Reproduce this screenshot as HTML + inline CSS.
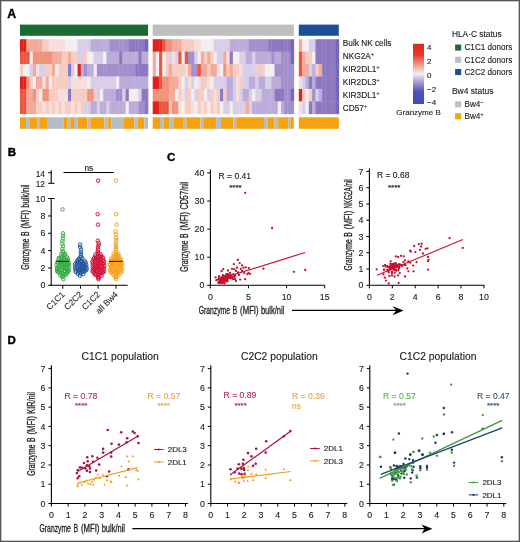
<!DOCTYPE html><html><head><meta charset="utf-8"><style>
html,body{margin:0;padding:0;background:#fff;width:520px;height:542px;overflow:hidden}
body{position:relative;font-family:"Liberation Sans", sans-serif}
svg{filter:blur(0.35px)}
</style></head><body>
<svg width="520" height="542" viewBox="0 0 520 542" style="position:absolute;left:0;top:0">
<rect x="0" y="0" width="520" height="542" fill="#fff"/>
<rect x="20" y="24.6" width="128" height="11.2" fill="#1c6a34"/>
<rect x="152.7" y="24.6" width="141.1" height="11.2" fill="#bfbfbf"/>
<rect x="298.8" y="24.6" width="40" height="11.2" fill="#1c4f96"/>
<defs><filter id="bl" x="-2%" y="-2%" width="104%" height="104%"><feGaussianBlur stdDeviation="0.45"/></filter></defs><g filter="url(#bl)">
<rect x="20.00" y="39.20" width="3.55" height="12.78" fill="#e0241a"/>
<rect x="23.20" y="39.20" width="3.55" height="12.78" fill="#e0241a"/>
<rect x="26.40" y="39.20" width="3.55" height="12.78" fill="#f4aa99"/>
<rect x="29.60" y="39.20" width="3.55" height="12.78" fill="#f4aa99"/>
<rect x="32.80" y="39.20" width="3.55" height="12.78" fill="#f4aa99"/>
<rect x="36.00" y="39.20" width="3.55" height="12.78" fill="#f4aa99"/>
<rect x="39.20" y="39.20" width="3.55" height="12.78" fill="#f4aa99"/>
<rect x="42.40" y="39.20" width="3.55" height="12.78" fill="#f7cdc2"/>
<rect x="45.60" y="39.20" width="3.55" height="12.78" fill="#f7cdc2"/>
<rect x="48.80" y="39.20" width="3.55" height="12.78" fill="#f5dfdc"/>
<rect x="52.00" y="39.20" width="3.55" height="12.78" fill="#f5dfdc"/>
<rect x="55.20" y="39.20" width="3.55" height="12.78" fill="#f5dfdc"/>
<rect x="58.40" y="39.20" width="3.55" height="12.78" fill="#f5dfdc"/>
<rect x="61.60" y="39.20" width="3.55" height="12.78" fill="#f5dfdc"/>
<rect x="64.80" y="39.20" width="3.55" height="12.78" fill="#f3eef1"/>
<rect x="68.00" y="39.20" width="3.55" height="12.78" fill="#f3eef1"/>
<rect x="71.20" y="39.20" width="3.55" height="12.78" fill="#f3eef1"/>
<rect x="74.40" y="39.20" width="3.55" height="12.78" fill="#f3eef1"/>
<rect x="77.60" y="39.20" width="3.55" height="12.78" fill="#d9cee8"/>
<rect x="80.80" y="39.20" width="3.55" height="12.78" fill="#d9cee8"/>
<rect x="84.00" y="39.20" width="3.55" height="12.78" fill="#d9cee8"/>
<rect x="87.20" y="39.20" width="3.55" height="12.78" fill="#d9cee8"/>
<rect x="90.40" y="39.20" width="3.55" height="12.78" fill="#bbacd9"/>
<rect x="93.60" y="39.20" width="3.55" height="12.78" fill="#bbacd9"/>
<rect x="96.80" y="39.20" width="3.55" height="12.78" fill="#bbacd9"/>
<rect x="100.00" y="39.20" width="3.55" height="12.78" fill="#bbacd9"/>
<rect x="103.20" y="39.20" width="3.55" height="12.78" fill="#bbacd9"/>
<rect x="106.40" y="39.20" width="3.55" height="12.78" fill="#bbacd9"/>
<rect x="109.60" y="39.20" width="3.55" height="12.78" fill="#a28fcb"/>
<rect x="112.80" y="39.20" width="3.55" height="12.78" fill="#a28fcb"/>
<rect x="116.00" y="39.20" width="3.55" height="12.78" fill="#a28fcb"/>
<rect x="119.20" y="39.20" width="3.55" height="12.78" fill="#a28fcb"/>
<rect x="122.40" y="39.20" width="3.55" height="12.78" fill="#a28fcb"/>
<rect x="125.60" y="39.20" width="3.55" height="12.78" fill="#a28fcb"/>
<rect x="128.80" y="39.20" width="3.55" height="12.78" fill="#8d79c1"/>
<rect x="132.00" y="39.20" width="3.55" height="12.78" fill="#8d79c1"/>
<rect x="135.20" y="39.20" width="3.55" height="12.78" fill="#8d79c1"/>
<rect x="138.40" y="39.20" width="3.55" height="12.78" fill="#8d79c1"/>
<rect x="141.60" y="39.20" width="3.55" height="12.78" fill="#8d79c1"/>
<rect x="144.80" y="39.20" width="3.55" height="12.78" fill="#7a66b6"/>
<rect x="20.00" y="51.63" width="3.55" height="12.78" fill="#ea5641"/>
<rect x="23.20" y="51.63" width="3.55" height="12.78" fill="#ea5641"/>
<rect x="26.40" y="51.63" width="3.55" height="12.78" fill="#ea5641"/>
<rect x="29.60" y="51.63" width="3.55" height="12.78" fill="#f3eef1"/>
<rect x="32.80" y="51.63" width="3.55" height="12.78" fill="#f1927d"/>
<rect x="36.00" y="51.63" width="3.55" height="12.78" fill="#f1927d"/>
<rect x="39.20" y="51.63" width="3.55" height="12.78" fill="#f1927d"/>
<rect x="42.40" y="51.63" width="3.55" height="12.78" fill="#f1927d"/>
<rect x="45.60" y="51.63" width="3.55" height="12.78" fill="#f1927d"/>
<rect x="48.80" y="51.63" width="3.55" height="12.78" fill="#f1927d"/>
<rect x="52.00" y="51.63" width="3.55" height="12.78" fill="#f4aa99"/>
<rect x="55.20" y="51.63" width="3.55" height="12.78" fill="#f4aa99"/>
<rect x="58.40" y="51.63" width="3.55" height="12.78" fill="#f4aa99"/>
<rect x="61.60" y="51.63" width="3.55" height="12.78" fill="#f7cdc2"/>
<rect x="64.80" y="51.63" width="3.55" height="12.78" fill="#f7cdc2"/>
<rect x="68.00" y="51.63" width="3.55" height="12.78" fill="#f4aa99"/>
<rect x="71.20" y="51.63" width="3.55" height="12.78" fill="#f7cdc2"/>
<rect x="74.40" y="51.63" width="3.55" height="12.78" fill="#f7cdc2"/>
<rect x="77.60" y="51.63" width="3.55" height="12.78" fill="#d9cee8"/>
<rect x="80.80" y="51.63" width="3.55" height="12.78" fill="#d9cee8"/>
<rect x="84.00" y="51.63" width="3.55" height="12.78" fill="#f7cdc2"/>
<rect x="87.20" y="51.63" width="3.55" height="12.78" fill="#f3eef1"/>
<rect x="90.40" y="51.63" width="3.55" height="12.78" fill="#f3eef1"/>
<rect x="93.60" y="51.63" width="3.55" height="12.78" fill="#d9cee8"/>
<rect x="96.80" y="51.63" width="3.55" height="12.78" fill="#d9cee8"/>
<rect x="100.00" y="51.63" width="3.55" height="12.78" fill="#d9cee8"/>
<rect x="103.20" y="51.63" width="3.55" height="12.78" fill="#f3eef1"/>
<rect x="106.40" y="51.63" width="3.55" height="12.78" fill="#bbacd9"/>
<rect x="109.60" y="51.63" width="3.55" height="12.78" fill="#bbacd9"/>
<rect x="112.80" y="51.63" width="3.55" height="12.78" fill="#bbacd9"/>
<rect x="116.00" y="51.63" width="3.55" height="12.78" fill="#bbacd9"/>
<rect x="119.20" y="51.63" width="3.55" height="12.78" fill="#8d79c1"/>
<rect x="122.40" y="51.63" width="3.55" height="12.78" fill="#bbacd9"/>
<rect x="125.60" y="51.63" width="3.55" height="12.78" fill="#bbacd9"/>
<rect x="128.80" y="51.63" width="3.55" height="12.78" fill="#bbacd9"/>
<rect x="132.00" y="51.63" width="3.55" height="12.78" fill="#bbacd9"/>
<rect x="135.20" y="51.63" width="3.55" height="12.78" fill="#bbacd9"/>
<rect x="138.40" y="51.63" width="3.55" height="12.78" fill="#8d79c1"/>
<rect x="141.60" y="51.63" width="3.55" height="12.78" fill="#bbacd9"/>
<rect x="144.80" y="51.63" width="3.55" height="12.78" fill="#bbacd9"/>
<rect x="20.00" y="64.07" width="3.55" height="12.78" fill="#f7cdc2"/>
<rect x="23.20" y="64.07" width="3.55" height="12.78" fill="#f3eef1"/>
<rect x="26.40" y="64.07" width="3.55" height="12.78" fill="#f3eef1"/>
<rect x="29.60" y="64.07" width="3.55" height="12.78" fill="#d9cee8"/>
<rect x="32.80" y="64.07" width="3.55" height="12.78" fill="#f4aa99"/>
<rect x="36.00" y="64.07" width="3.55" height="12.78" fill="#f5dfdc"/>
<rect x="39.20" y="64.07" width="3.55" height="12.78" fill="#d9cee8"/>
<rect x="42.40" y="64.07" width="3.55" height="12.78" fill="#d9cee8"/>
<rect x="45.60" y="64.07" width="3.55" height="12.78" fill="#f7cdc2"/>
<rect x="48.80" y="64.07" width="3.55" height="12.78" fill="#f7cdc2"/>
<rect x="52.00" y="64.07" width="3.55" height="12.78" fill="#f4aa99"/>
<rect x="55.20" y="64.07" width="3.55" height="12.78" fill="#f3eef1"/>
<rect x="58.40" y="64.07" width="3.55" height="12.78" fill="#f7cdc2"/>
<rect x="61.60" y="64.07" width="3.55" height="12.78" fill="#f7cdc2"/>
<rect x="64.80" y="64.07" width="3.55" height="12.78" fill="#f7cdc2"/>
<rect x="68.00" y="64.07" width="3.55" height="12.78" fill="#8d79c1"/>
<rect x="71.20" y="64.07" width="3.55" height="12.78" fill="#d9cee8"/>
<rect x="74.40" y="64.07" width="3.55" height="12.78" fill="#f3eef1"/>
<rect x="77.60" y="64.07" width="3.55" height="12.78" fill="#e0241a"/>
<rect x="80.80" y="64.07" width="3.55" height="12.78" fill="#bbacd9"/>
<rect x="84.00" y="64.07" width="3.55" height="12.78" fill="#a28fcb"/>
<rect x="87.20" y="64.07" width="3.55" height="12.78" fill="#bbacd9"/>
<rect x="90.40" y="64.07" width="3.55" height="12.78" fill="#bbacd9"/>
<rect x="93.60" y="64.07" width="3.55" height="12.78" fill="#f3eef1"/>
<rect x="96.80" y="64.07" width="3.55" height="12.78" fill="#a28fcb"/>
<rect x="100.00" y="64.07" width="3.55" height="12.78" fill="#a28fcb"/>
<rect x="103.20" y="64.07" width="3.55" height="12.78" fill="#a28fcb"/>
<rect x="106.40" y="64.07" width="3.55" height="12.78" fill="#a28fcb"/>
<rect x="109.60" y="64.07" width="3.55" height="12.78" fill="#a28fcb"/>
<rect x="112.80" y="64.07" width="3.55" height="12.78" fill="#a28fcb"/>
<rect x="116.00" y="64.07" width="3.55" height="12.78" fill="#a28fcb"/>
<rect x="119.20" y="64.07" width="3.55" height="12.78" fill="#a28fcb"/>
<rect x="122.40" y="64.07" width="3.55" height="12.78" fill="#a28fcb"/>
<rect x="125.60" y="64.07" width="3.55" height="12.78" fill="#a28fcb"/>
<rect x="128.80" y="64.07" width="3.55" height="12.78" fill="#a28fcb"/>
<rect x="132.00" y="64.07" width="3.55" height="12.78" fill="#a28fcb"/>
<rect x="135.20" y="64.07" width="3.55" height="12.78" fill="#8d79c1"/>
<rect x="138.40" y="64.07" width="3.55" height="12.78" fill="#8d79c1"/>
<rect x="141.60" y="64.07" width="3.55" height="12.78" fill="#8d79c1"/>
<rect x="144.80" y="64.07" width="3.55" height="12.78" fill="#8d79c1"/>
<rect x="20.00" y="76.50" width="3.55" height="12.78" fill="#e0241a"/>
<rect x="23.20" y="76.50" width="3.55" height="12.78" fill="#e0241a"/>
<rect x="26.40" y="76.50" width="3.55" height="12.78" fill="#f1927d"/>
<rect x="29.60" y="76.50" width="3.55" height="12.78" fill="#f7cdc2"/>
<rect x="32.80" y="76.50" width="3.55" height="12.78" fill="#f3eef1"/>
<rect x="36.00" y="76.50" width="3.55" height="12.78" fill="#f4aa99"/>
<rect x="39.20" y="76.50" width="3.55" height="12.78" fill="#f4aa99"/>
<rect x="42.40" y="76.50" width="3.55" height="12.78" fill="#f5dfdc"/>
<rect x="45.60" y="76.50" width="3.55" height="12.78" fill="#f4aa99"/>
<rect x="48.80" y="76.50" width="3.55" height="12.78" fill="#f3eef1"/>
<rect x="52.00" y="76.50" width="3.55" height="12.78" fill="#f7cdc2"/>
<rect x="55.20" y="76.50" width="3.55" height="12.78" fill="#f7cdc2"/>
<rect x="58.40" y="76.50" width="3.55" height="12.78" fill="#f7cdc2"/>
<rect x="61.60" y="76.50" width="3.55" height="12.78" fill="#f7cdc2"/>
<rect x="64.80" y="76.50" width="3.55" height="12.78" fill="#f7cdc2"/>
<rect x="68.00" y="76.50" width="3.55" height="12.78" fill="#d9cee8"/>
<rect x="71.20" y="76.50" width="3.55" height="12.78" fill="#f5dfdc"/>
<rect x="74.40" y="76.50" width="3.55" height="12.78" fill="#f5dfdc"/>
<rect x="77.60" y="76.50" width="3.55" height="12.78" fill="#f5dfdc"/>
<rect x="80.80" y="76.50" width="3.55" height="12.78" fill="#f5dfdc"/>
<rect x="84.00" y="76.50" width="3.55" height="12.78" fill="#f5dfdc"/>
<rect x="87.20" y="76.50" width="3.55" height="12.78" fill="#f3eef1"/>
<rect x="90.40" y="76.50" width="3.55" height="12.78" fill="#d9cee8"/>
<rect x="93.60" y="76.50" width="3.55" height="12.78" fill="#d9cee8"/>
<rect x="96.80" y="76.50" width="3.55" height="12.78" fill="#d9cee8"/>
<rect x="100.00" y="76.50" width="3.55" height="12.78" fill="#d9cee8"/>
<rect x="103.20" y="76.50" width="3.55" height="12.78" fill="#d9cee8"/>
<rect x="106.40" y="76.50" width="3.55" height="12.78" fill="#d9cee8"/>
<rect x="109.60" y="76.50" width="3.55" height="12.78" fill="#d9cee8"/>
<rect x="112.80" y="76.50" width="3.55" height="12.78" fill="#d9cee8"/>
<rect x="116.00" y="76.50" width="3.55" height="12.78" fill="#f3eef1"/>
<rect x="119.20" y="76.50" width="3.55" height="12.78" fill="#bbacd9"/>
<rect x="122.40" y="76.50" width="3.55" height="12.78" fill="#bbacd9"/>
<rect x="125.60" y="76.50" width="3.55" height="12.78" fill="#bbacd9"/>
<rect x="128.80" y="76.50" width="3.55" height="12.78" fill="#bbacd9"/>
<rect x="132.00" y="76.50" width="3.55" height="12.78" fill="#bbacd9"/>
<rect x="135.20" y="76.50" width="3.55" height="12.78" fill="#bbacd9"/>
<rect x="138.40" y="76.50" width="3.55" height="12.78" fill="#bbacd9"/>
<rect x="141.60" y="76.50" width="3.55" height="12.78" fill="#bbacd9"/>
<rect x="144.80" y="76.50" width="3.55" height="12.78" fill="#bbacd9"/>
<rect x="20.00" y="88.93" width="3.55" height="12.78" fill="#ea5641"/>
<rect x="23.20" y="88.93" width="3.55" height="12.78" fill="#ea5641"/>
<rect x="26.40" y="88.93" width="3.55" height="12.78" fill="#f4aa99"/>
<rect x="29.60" y="88.93" width="3.55" height="12.78" fill="#f4aa99"/>
<rect x="32.80" y="88.93" width="3.55" height="12.78" fill="#f1927d"/>
<rect x="36.00" y="88.93" width="3.55" height="12.78" fill="#f7cdc2"/>
<rect x="39.20" y="88.93" width="3.55" height="12.78" fill="#f3eef1"/>
<rect x="42.40" y="88.93" width="3.55" height="12.78" fill="#f1927d"/>
<rect x="45.60" y="88.93" width="3.55" height="12.78" fill="#f1927d"/>
<rect x="48.80" y="88.93" width="3.55" height="12.78" fill="#f7cdc2"/>
<rect x="52.00" y="88.93" width="3.55" height="12.78" fill="#f7cdc2"/>
<rect x="55.20" y="88.93" width="3.55" height="12.78" fill="#f7cdc2"/>
<rect x="58.40" y="88.93" width="3.55" height="12.78" fill="#f5dfdc"/>
<rect x="61.60" y="88.93" width="3.55" height="12.78" fill="#f5dfdc"/>
<rect x="64.80" y="88.93" width="3.55" height="12.78" fill="#f5dfdc"/>
<rect x="68.00" y="88.93" width="3.55" height="12.78" fill="#8d79c1"/>
<rect x="71.20" y="88.93" width="3.55" height="12.78" fill="#f7cdc2"/>
<rect x="74.40" y="88.93" width="3.55" height="12.78" fill="#f7cdc2"/>
<rect x="77.60" y="88.93" width="3.55" height="12.78" fill="#f7cdc2"/>
<rect x="80.80" y="88.93" width="3.55" height="12.78" fill="#f7cdc2"/>
<rect x="84.00" y="88.93" width="3.55" height="12.78" fill="#f7cdc2"/>
<rect x="87.20" y="88.93" width="3.55" height="12.78" fill="#f1927d"/>
<rect x="90.40" y="88.93" width="3.55" height="12.78" fill="#f1927d"/>
<rect x="93.60" y="88.93" width="3.55" height="12.78" fill="#f7cdc2"/>
<rect x="96.80" y="88.93" width="3.55" height="12.78" fill="#d9cee8"/>
<rect x="100.00" y="88.93" width="3.55" height="12.78" fill="#f3eef1"/>
<rect x="103.20" y="88.93" width="3.55" height="12.78" fill="#bbacd9"/>
<rect x="106.40" y="88.93" width="3.55" height="12.78" fill="#bbacd9"/>
<rect x="109.60" y="88.93" width="3.55" height="12.78" fill="#bbacd9"/>
<rect x="112.80" y="88.93" width="3.55" height="12.78" fill="#bbacd9"/>
<rect x="116.00" y="88.93" width="3.55" height="12.78" fill="#a28fcb"/>
<rect x="119.20" y="88.93" width="3.55" height="12.78" fill="#a28fcb"/>
<rect x="122.40" y="88.93" width="3.55" height="12.78" fill="#d9cee8"/>
<rect x="125.60" y="88.93" width="3.55" height="12.78" fill="#8d79c1"/>
<rect x="128.80" y="88.93" width="3.55" height="12.78" fill="#f3eef1"/>
<rect x="132.00" y="88.93" width="3.55" height="12.78" fill="#f3eef1"/>
<rect x="135.20" y="88.93" width="3.55" height="12.78" fill="#f3eef1"/>
<rect x="138.40" y="88.93" width="3.55" height="12.78" fill="#d9cee8"/>
<rect x="141.60" y="88.93" width="3.55" height="12.78" fill="#8d79c1"/>
<rect x="144.80" y="88.93" width="3.55" height="12.78" fill="#8d79c1"/>
<rect x="20.00" y="101.37" width="3.55" height="12.78" fill="#ea5641"/>
<rect x="23.20" y="101.37" width="3.55" height="12.78" fill="#ea5641"/>
<rect x="26.40" y="101.37" width="3.55" height="12.78" fill="#f4aa99"/>
<rect x="29.60" y="101.37" width="3.55" height="12.78" fill="#f4aa99"/>
<rect x="32.80" y="101.37" width="3.55" height="12.78" fill="#f4aa99"/>
<rect x="36.00" y="101.37" width="3.55" height="12.78" fill="#f7cdc2"/>
<rect x="39.20" y="101.37" width="3.55" height="12.78" fill="#f7cdc2"/>
<rect x="42.40" y="101.37" width="3.55" height="12.78" fill="#f5dfdc"/>
<rect x="45.60" y="101.37" width="3.55" height="12.78" fill="#f7cdc2"/>
<rect x="48.80" y="101.37" width="3.55" height="12.78" fill="#f5dfdc"/>
<rect x="52.00" y="101.37" width="3.55" height="12.78" fill="#f7cdc2"/>
<rect x="55.20" y="101.37" width="3.55" height="12.78" fill="#f5dfdc"/>
<rect x="58.40" y="101.37" width="3.55" height="12.78" fill="#f7cdc2"/>
<rect x="61.60" y="101.37" width="3.55" height="12.78" fill="#f5dfdc"/>
<rect x="64.80" y="101.37" width="3.55" height="12.78" fill="#f7cdc2"/>
<rect x="68.00" y="101.37" width="3.55" height="12.78" fill="#f7cdc2"/>
<rect x="71.20" y="101.37" width="3.55" height="12.78" fill="#f5dfdc"/>
<rect x="74.40" y="101.37" width="3.55" height="12.78" fill="#f7cdc2"/>
<rect x="77.60" y="101.37" width="3.55" height="12.78" fill="#f5dfdc"/>
<rect x="80.80" y="101.37" width="3.55" height="12.78" fill="#f7cdc2"/>
<rect x="84.00" y="101.37" width="3.55" height="12.78" fill="#d9cee8"/>
<rect x="87.20" y="101.37" width="3.55" height="12.78" fill="#d9cee8"/>
<rect x="90.40" y="101.37" width="3.55" height="12.78" fill="#bbacd9"/>
<rect x="93.60" y="101.37" width="3.55" height="12.78" fill="#bbacd9"/>
<rect x="96.80" y="101.37" width="3.55" height="12.78" fill="#d9cee8"/>
<rect x="100.00" y="101.37" width="3.55" height="12.78" fill="#bbacd9"/>
<rect x="103.20" y="101.37" width="3.55" height="12.78" fill="#bbacd9"/>
<rect x="106.40" y="101.37" width="3.55" height="12.78" fill="#d9cee8"/>
<rect x="109.60" y="101.37" width="3.55" height="12.78" fill="#bbacd9"/>
<rect x="112.80" y="101.37" width="3.55" height="12.78" fill="#bbacd9"/>
<rect x="116.00" y="101.37" width="3.55" height="12.78" fill="#bbacd9"/>
<rect x="119.20" y="101.37" width="3.55" height="12.78" fill="#bbacd9"/>
<rect x="122.40" y="101.37" width="3.55" height="12.78" fill="#bbacd9"/>
<rect x="125.60" y="101.37" width="3.55" height="12.78" fill="#f3eef1"/>
<rect x="128.80" y="101.37" width="3.55" height="12.78" fill="#bbacd9"/>
<rect x="132.00" y="101.37" width="3.55" height="12.78" fill="#bbacd9"/>
<rect x="135.20" y="101.37" width="3.55" height="12.78" fill="#bbacd9"/>
<rect x="138.40" y="101.37" width="3.55" height="12.78" fill="#a28fcb"/>
<rect x="141.60" y="101.37" width="3.55" height="12.78" fill="#a28fcb"/>
<rect x="144.80" y="101.37" width="3.55" height="12.78" fill="#8d79c1"/>
<rect x="152.70" y="39.20" width="3.56" height="12.78" fill="#e0241a"/>
<rect x="155.91" y="39.20" width="3.56" height="12.78" fill="#e0241a"/>
<rect x="159.11" y="39.20" width="3.56" height="12.78" fill="#e0241a"/>
<rect x="162.32" y="39.20" width="3.56" height="12.78" fill="#ea5641"/>
<rect x="165.53" y="39.20" width="3.56" height="12.78" fill="#f1927d"/>
<rect x="168.73" y="39.20" width="3.56" height="12.78" fill="#f1927d"/>
<rect x="171.94" y="39.20" width="3.56" height="12.78" fill="#f4aa99"/>
<rect x="175.15" y="39.20" width="3.56" height="12.78" fill="#f4aa99"/>
<rect x="178.35" y="39.20" width="3.56" height="12.78" fill="#f4aa99"/>
<rect x="181.56" y="39.20" width="3.56" height="12.78" fill="#f7cdc2"/>
<rect x="184.77" y="39.20" width="3.56" height="12.78" fill="#f7cdc2"/>
<rect x="187.97" y="39.20" width="3.56" height="12.78" fill="#f7cdc2"/>
<rect x="191.18" y="39.20" width="3.56" height="12.78" fill="#f7cdc2"/>
<rect x="194.39" y="39.20" width="3.56" height="12.78" fill="#f5dfdc"/>
<rect x="197.60" y="39.20" width="3.56" height="12.78" fill="#f5dfdc"/>
<rect x="200.80" y="39.20" width="3.56" height="12.78" fill="#f3eef1"/>
<rect x="204.01" y="39.20" width="3.56" height="12.78" fill="#f3eef1"/>
<rect x="207.22" y="39.20" width="3.56" height="12.78" fill="#f3eef1"/>
<rect x="210.42" y="39.20" width="3.56" height="12.78" fill="#f3eef1"/>
<rect x="213.63" y="39.20" width="3.56" height="12.78" fill="#d9cee8"/>
<rect x="216.84" y="39.20" width="3.56" height="12.78" fill="#d9cee8"/>
<rect x="220.04" y="39.20" width="3.56" height="12.78" fill="#d9cee8"/>
<rect x="223.25" y="39.20" width="3.56" height="12.78" fill="#d9cee8"/>
<rect x="226.46" y="39.20" width="3.56" height="12.78" fill="#d9cee8"/>
<rect x="229.66" y="39.20" width="3.56" height="12.78" fill="#bbacd9"/>
<rect x="232.87" y="39.20" width="3.56" height="12.78" fill="#bbacd9"/>
<rect x="236.08" y="39.20" width="3.56" height="12.78" fill="#bbacd9"/>
<rect x="239.28" y="39.20" width="3.56" height="12.78" fill="#bbacd9"/>
<rect x="242.49" y="39.20" width="3.56" height="12.78" fill="#bbacd9"/>
<rect x="245.70" y="39.20" width="3.56" height="12.78" fill="#bbacd9"/>
<rect x="248.90" y="39.20" width="3.56" height="12.78" fill="#a28fcb"/>
<rect x="252.11" y="39.20" width="3.56" height="12.78" fill="#a28fcb"/>
<rect x="255.32" y="39.20" width="3.56" height="12.78" fill="#a28fcb"/>
<rect x="258.52" y="39.20" width="3.56" height="12.78" fill="#a28fcb"/>
<rect x="261.73" y="39.20" width="3.56" height="12.78" fill="#a28fcb"/>
<rect x="264.94" y="39.20" width="3.56" height="12.78" fill="#a28fcb"/>
<rect x="268.15" y="39.20" width="3.56" height="12.78" fill="#8d79c1"/>
<rect x="271.35" y="39.20" width="3.56" height="12.78" fill="#8d79c1"/>
<rect x="274.56" y="39.20" width="3.56" height="12.78" fill="#8d79c1"/>
<rect x="277.77" y="39.20" width="3.56" height="12.78" fill="#8d79c1"/>
<rect x="280.97" y="39.20" width="3.56" height="12.78" fill="#8d79c1"/>
<rect x="284.18" y="39.20" width="3.56" height="12.78" fill="#8d79c1"/>
<rect x="287.39" y="39.20" width="3.56" height="12.78" fill="#8d79c1"/>
<rect x="290.59" y="39.20" width="3.56" height="12.78" fill="#7a66b6"/>
<rect x="152.70" y="51.63" width="3.56" height="12.78" fill="#f4aa99"/>
<rect x="155.91" y="51.63" width="3.56" height="12.78" fill="#f3eef1"/>
<rect x="159.11" y="51.63" width="3.56" height="12.78" fill="#ea5641"/>
<rect x="162.32" y="51.63" width="3.56" height="12.78" fill="#f3eef1"/>
<rect x="165.53" y="51.63" width="3.56" height="12.78" fill="#f7cdc2"/>
<rect x="168.73" y="51.63" width="3.56" height="12.78" fill="#d9cee8"/>
<rect x="171.94" y="51.63" width="3.56" height="12.78" fill="#f5dfdc"/>
<rect x="175.15" y="51.63" width="3.56" height="12.78" fill="#d9cee8"/>
<rect x="178.35" y="51.63" width="3.56" height="12.78" fill="#ea5641"/>
<rect x="181.56" y="51.63" width="3.56" height="12.78" fill="#f3eef1"/>
<rect x="184.77" y="51.63" width="3.56" height="12.78" fill="#ea5641"/>
<rect x="187.97" y="51.63" width="3.56" height="12.78" fill="#a28fcb"/>
<rect x="191.18" y="51.63" width="3.56" height="12.78" fill="#a28fcb"/>
<rect x="194.39" y="51.63" width="3.56" height="12.78" fill="#d9cee8"/>
<rect x="197.60" y="51.63" width="3.56" height="12.78" fill="#f3eef1"/>
<rect x="200.80" y="51.63" width="3.56" height="12.78" fill="#f4aa99"/>
<rect x="204.01" y="51.63" width="3.56" height="12.78" fill="#f7cdc2"/>
<rect x="207.22" y="51.63" width="3.56" height="12.78" fill="#f4aa99"/>
<rect x="210.42" y="51.63" width="3.56" height="12.78" fill="#f7cdc2"/>
<rect x="213.63" y="51.63" width="3.56" height="12.78" fill="#f3eef1"/>
<rect x="216.84" y="51.63" width="3.56" height="12.78" fill="#d9cee8"/>
<rect x="220.04" y="51.63" width="3.56" height="12.78" fill="#d9cee8"/>
<rect x="223.25" y="51.63" width="3.56" height="12.78" fill="#f4aa99"/>
<rect x="226.46" y="51.63" width="3.56" height="12.78" fill="#f5dfdc"/>
<rect x="229.66" y="51.63" width="3.56" height="12.78" fill="#8d79c1"/>
<rect x="232.87" y="51.63" width="3.56" height="12.78" fill="#f3eef1"/>
<rect x="236.08" y="51.63" width="3.56" height="12.78" fill="#f3eef1"/>
<rect x="239.28" y="51.63" width="3.56" height="12.78" fill="#d9cee8"/>
<rect x="242.49" y="51.63" width="3.56" height="12.78" fill="#d9cee8"/>
<rect x="245.70" y="51.63" width="3.56" height="12.78" fill="#bbacd9"/>
<rect x="248.90" y="51.63" width="3.56" height="12.78" fill="#bbacd9"/>
<rect x="252.11" y="51.63" width="3.56" height="12.78" fill="#d9cee8"/>
<rect x="255.32" y="51.63" width="3.56" height="12.78" fill="#bbacd9"/>
<rect x="258.52" y="51.63" width="3.56" height="12.78" fill="#bbacd9"/>
<rect x="261.73" y="51.63" width="3.56" height="12.78" fill="#bbacd9"/>
<rect x="264.94" y="51.63" width="3.56" height="12.78" fill="#bbacd9"/>
<rect x="268.15" y="51.63" width="3.56" height="12.78" fill="#bbacd9"/>
<rect x="271.35" y="51.63" width="3.56" height="12.78" fill="#a28fcb"/>
<rect x="274.56" y="51.63" width="3.56" height="12.78" fill="#bbacd9"/>
<rect x="277.77" y="51.63" width="3.56" height="12.78" fill="#bbacd9"/>
<rect x="280.97" y="51.63" width="3.56" height="12.78" fill="#a28fcb"/>
<rect x="284.18" y="51.63" width="3.56" height="12.78" fill="#a28fcb"/>
<rect x="287.39" y="51.63" width="3.56" height="12.78" fill="#a28fcb"/>
<rect x="290.59" y="51.63" width="3.56" height="12.78" fill="#7a66b6"/>
<rect x="152.70" y="64.07" width="3.56" height="12.78" fill="#f4aa99"/>
<rect x="155.91" y="64.07" width="3.56" height="12.78" fill="#f3eef1"/>
<rect x="159.11" y="64.07" width="3.56" height="12.78" fill="#ea5641"/>
<rect x="162.32" y="64.07" width="3.56" height="12.78" fill="#f3eef1"/>
<rect x="165.53" y="64.07" width="3.56" height="12.78" fill="#f7cdc2"/>
<rect x="168.73" y="64.07" width="3.56" height="12.78" fill="#f4aa99"/>
<rect x="171.94" y="64.07" width="3.56" height="12.78" fill="#f7cdc2"/>
<rect x="175.15" y="64.07" width="3.56" height="12.78" fill="#f7cdc2"/>
<rect x="178.35" y="64.07" width="3.56" height="12.78" fill="#f7cdc2"/>
<rect x="181.56" y="64.07" width="3.56" height="12.78" fill="#f7cdc2"/>
<rect x="184.77" y="64.07" width="3.56" height="12.78" fill="#f5dfdc"/>
<rect x="187.97" y="64.07" width="3.56" height="12.78" fill="#f4aa99"/>
<rect x="191.18" y="64.07" width="3.56" height="12.78" fill="#a28fcb"/>
<rect x="194.39" y="64.07" width="3.56" height="12.78" fill="#a28fcb"/>
<rect x="197.60" y="64.07" width="3.56" height="12.78" fill="#ea5641"/>
<rect x="200.80" y="64.07" width="3.56" height="12.78" fill="#f4aa99"/>
<rect x="204.01" y="64.07" width="3.56" height="12.78" fill="#f4aa99"/>
<rect x="207.22" y="64.07" width="3.56" height="12.78" fill="#f7cdc2"/>
<rect x="210.42" y="64.07" width="3.56" height="12.78" fill="#f4aa99"/>
<rect x="213.63" y="64.07" width="3.56" height="12.78" fill="#f4aa99"/>
<rect x="216.84" y="64.07" width="3.56" height="12.78" fill="#f5dfdc"/>
<rect x="220.04" y="64.07" width="3.56" height="12.78" fill="#f3eef1"/>
<rect x="223.25" y="64.07" width="3.56" height="12.78" fill="#f1927d"/>
<rect x="226.46" y="64.07" width="3.56" height="12.78" fill="#f7cdc2"/>
<rect x="229.66" y="64.07" width="3.56" height="12.78" fill="#f4aa99"/>
<rect x="232.87" y="64.07" width="3.56" height="12.78" fill="#f7cdc2"/>
<rect x="236.08" y="64.07" width="3.56" height="12.78" fill="#f7cdc2"/>
<rect x="239.28" y="64.07" width="3.56" height="12.78" fill="#f5dfdc"/>
<rect x="242.49" y="64.07" width="3.56" height="12.78" fill="#d9cee8"/>
<rect x="245.70" y="64.07" width="3.56" height="12.78" fill="#d9cee8"/>
<rect x="248.90" y="64.07" width="3.56" height="12.78" fill="#d9cee8"/>
<rect x="252.11" y="64.07" width="3.56" height="12.78" fill="#d9cee8"/>
<rect x="255.32" y="64.07" width="3.56" height="12.78" fill="#f7cdc2"/>
<rect x="258.52" y="64.07" width="3.56" height="12.78" fill="#d9cee8"/>
<rect x="261.73" y="64.07" width="3.56" height="12.78" fill="#f7cdc2"/>
<rect x="264.94" y="64.07" width="3.56" height="12.78" fill="#f3eef1"/>
<rect x="268.15" y="64.07" width="3.56" height="12.78" fill="#f3eef1"/>
<rect x="271.35" y="64.07" width="3.56" height="12.78" fill="#f3eef1"/>
<rect x="274.56" y="64.07" width="3.56" height="12.78" fill="#a28fcb"/>
<rect x="277.77" y="64.07" width="3.56" height="12.78" fill="#a28fcb"/>
<rect x="280.97" y="64.07" width="3.56" height="12.78" fill="#a28fcb"/>
<rect x="284.18" y="64.07" width="3.56" height="12.78" fill="#a28fcb"/>
<rect x="287.39" y="64.07" width="3.56" height="12.78" fill="#a28fcb"/>
<rect x="290.59" y="64.07" width="3.56" height="12.78" fill="#a28fcb"/>
<rect x="152.70" y="76.50" width="3.56" height="12.78" fill="#e0241a"/>
<rect x="155.91" y="76.50" width="3.56" height="12.78" fill="#e0241a"/>
<rect x="159.11" y="76.50" width="3.56" height="12.78" fill="#ea5641"/>
<rect x="162.32" y="76.50" width="3.56" height="12.78" fill="#f1927d"/>
<rect x="165.53" y="76.50" width="3.56" height="12.78" fill="#f1927d"/>
<rect x="168.73" y="76.50" width="3.56" height="12.78" fill="#f4aa99"/>
<rect x="171.94" y="76.50" width="3.56" height="12.78" fill="#f4aa99"/>
<rect x="175.15" y="76.50" width="3.56" height="12.78" fill="#f4aa99"/>
<rect x="178.35" y="76.50" width="3.56" height="12.78" fill="#f7cdc2"/>
<rect x="181.56" y="76.50" width="3.56" height="12.78" fill="#f3eef1"/>
<rect x="184.77" y="76.50" width="3.56" height="12.78" fill="#d9cee8"/>
<rect x="187.97" y="76.50" width="3.56" height="12.78" fill="#f5dfdc"/>
<rect x="191.18" y="76.50" width="3.56" height="12.78" fill="#d9cee8"/>
<rect x="194.39" y="76.50" width="3.56" height="12.78" fill="#f3eef1"/>
<rect x="197.60" y="76.50" width="3.56" height="12.78" fill="#f5dfdc"/>
<rect x="200.80" y="76.50" width="3.56" height="12.78" fill="#d9cee8"/>
<rect x="204.01" y="76.50" width="3.56" height="12.78" fill="#f7cdc2"/>
<rect x="207.22" y="76.50" width="3.56" height="12.78" fill="#f5dfdc"/>
<rect x="210.42" y="76.50" width="3.56" height="12.78" fill="#f3eef1"/>
<rect x="213.63" y="76.50" width="3.56" height="12.78" fill="#d9cee8"/>
<rect x="216.84" y="76.50" width="3.56" height="12.78" fill="#d9cee8"/>
<rect x="220.04" y="76.50" width="3.56" height="12.78" fill="#d9cee8"/>
<rect x="223.25" y="76.50" width="3.56" height="12.78" fill="#d9cee8"/>
<rect x="226.46" y="76.50" width="3.56" height="12.78" fill="#bbacd9"/>
<rect x="229.66" y="76.50" width="3.56" height="12.78" fill="#bbacd9"/>
<rect x="232.87" y="76.50" width="3.56" height="12.78" fill="#d9cee8"/>
<rect x="236.08" y="76.50" width="3.56" height="12.78" fill="#f5dfdc"/>
<rect x="239.28" y="76.50" width="3.56" height="12.78" fill="#f7cdc2"/>
<rect x="242.49" y="76.50" width="3.56" height="12.78" fill="#d9cee8"/>
<rect x="245.70" y="76.50" width="3.56" height="12.78" fill="#d9cee8"/>
<rect x="248.90" y="76.50" width="3.56" height="12.78" fill="#bbacd9"/>
<rect x="252.11" y="76.50" width="3.56" height="12.78" fill="#bbacd9"/>
<rect x="255.32" y="76.50" width="3.56" height="12.78" fill="#d9cee8"/>
<rect x="258.52" y="76.50" width="3.56" height="12.78" fill="#bbacd9"/>
<rect x="261.73" y="76.50" width="3.56" height="12.78" fill="#bbacd9"/>
<rect x="264.94" y="76.50" width="3.56" height="12.78" fill="#d9cee8"/>
<rect x="268.15" y="76.50" width="3.56" height="12.78" fill="#d9cee8"/>
<rect x="271.35" y="76.50" width="3.56" height="12.78" fill="#bbacd9"/>
<rect x="274.56" y="76.50" width="3.56" height="12.78" fill="#bbacd9"/>
<rect x="277.77" y="76.50" width="3.56" height="12.78" fill="#bbacd9"/>
<rect x="280.97" y="76.50" width="3.56" height="12.78" fill="#a28fcb"/>
<rect x="284.18" y="76.50" width="3.56" height="12.78" fill="#a28fcb"/>
<rect x="287.39" y="76.50" width="3.56" height="12.78" fill="#a28fcb"/>
<rect x="290.59" y="76.50" width="3.56" height="12.78" fill="#a28fcb"/>
<rect x="152.70" y="88.93" width="3.56" height="12.78" fill="#f1927d"/>
<rect x="155.91" y="88.93" width="3.56" height="12.78" fill="#f1927d"/>
<rect x="159.11" y="88.93" width="3.56" height="12.78" fill="#f1927d"/>
<rect x="162.32" y="88.93" width="3.56" height="12.78" fill="#f1927d"/>
<rect x="165.53" y="88.93" width="3.56" height="12.78" fill="#f1927d"/>
<rect x="168.73" y="88.93" width="3.56" height="12.78" fill="#f4aa99"/>
<rect x="171.94" y="88.93" width="3.56" height="12.78" fill="#f4aa99"/>
<rect x="175.15" y="88.93" width="3.56" height="12.78" fill="#f3eef1"/>
<rect x="178.35" y="88.93" width="3.56" height="12.78" fill="#f7cdc2"/>
<rect x="181.56" y="88.93" width="3.56" height="12.78" fill="#f5dfdc"/>
<rect x="184.77" y="88.93" width="3.56" height="12.78" fill="#d9cee8"/>
<rect x="187.97" y="88.93" width="3.56" height="12.78" fill="#f7cdc2"/>
<rect x="191.18" y="88.93" width="3.56" height="12.78" fill="#f3eef1"/>
<rect x="194.39" y="88.93" width="3.56" height="12.78" fill="#d9cee8"/>
<rect x="197.60" y="88.93" width="3.56" height="12.78" fill="#f7cdc2"/>
<rect x="200.80" y="88.93" width="3.56" height="12.78" fill="#f7cdc2"/>
<rect x="204.01" y="88.93" width="3.56" height="12.78" fill="#f3eef1"/>
<rect x="207.22" y="88.93" width="3.56" height="12.78" fill="#d9cee8"/>
<rect x="210.42" y="88.93" width="3.56" height="12.78" fill="#f7cdc2"/>
<rect x="213.63" y="88.93" width="3.56" height="12.78" fill="#f5dfdc"/>
<rect x="216.84" y="88.93" width="3.56" height="12.78" fill="#f7cdc2"/>
<rect x="220.04" y="88.93" width="3.56" height="12.78" fill="#8d79c1"/>
<rect x="223.25" y="88.93" width="3.56" height="12.78" fill="#f7cdc2"/>
<rect x="226.46" y="88.93" width="3.56" height="12.78" fill="#bbacd9"/>
<rect x="229.66" y="88.93" width="3.56" height="12.78" fill="#bbacd9"/>
<rect x="232.87" y="88.93" width="3.56" height="12.78" fill="#d9cee8"/>
<rect x="236.08" y="88.93" width="3.56" height="12.78" fill="#f5dfdc"/>
<rect x="239.28" y="88.93" width="3.56" height="12.78" fill="#d9cee8"/>
<rect x="242.49" y="88.93" width="3.56" height="12.78" fill="#bbacd9"/>
<rect x="245.70" y="88.93" width="3.56" height="12.78" fill="#bbacd9"/>
<rect x="248.90" y="88.93" width="3.56" height="12.78" fill="#d9cee8"/>
<rect x="252.11" y="88.93" width="3.56" height="12.78" fill="#f3eef1"/>
<rect x="255.32" y="88.93" width="3.56" height="12.78" fill="#d9cee8"/>
<rect x="258.52" y="88.93" width="3.56" height="12.78" fill="#d9cee8"/>
<rect x="261.73" y="88.93" width="3.56" height="12.78" fill="#bbacd9"/>
<rect x="264.94" y="88.93" width="3.56" height="12.78" fill="#bbacd9"/>
<rect x="268.15" y="88.93" width="3.56" height="12.78" fill="#bbacd9"/>
<rect x="271.35" y="88.93" width="3.56" height="12.78" fill="#bbacd9"/>
<rect x="274.56" y="88.93" width="3.56" height="12.78" fill="#8d79c1"/>
<rect x="277.77" y="88.93" width="3.56" height="12.78" fill="#8d79c1"/>
<rect x="280.97" y="88.93" width="3.56" height="12.78" fill="#8d79c1"/>
<rect x="284.18" y="88.93" width="3.56" height="12.78" fill="#a28fcb"/>
<rect x="287.39" y="88.93" width="3.56" height="12.78" fill="#a28fcb"/>
<rect x="290.59" y="88.93" width="3.56" height="12.78" fill="#7a66b6"/>
<rect x="152.70" y="101.37" width="3.56" height="12.78" fill="#e0241a"/>
<rect x="155.91" y="101.37" width="3.56" height="12.78" fill="#e0241a"/>
<rect x="159.11" y="101.37" width="3.56" height="12.78" fill="#ea5641"/>
<rect x="162.32" y="101.37" width="3.56" height="12.78" fill="#ea5641"/>
<rect x="165.53" y="101.37" width="3.56" height="12.78" fill="#ea5641"/>
<rect x="168.73" y="101.37" width="3.56" height="12.78" fill="#f7cdc2"/>
<rect x="171.94" y="101.37" width="3.56" height="12.78" fill="#f1927d"/>
<rect x="175.15" y="101.37" width="3.56" height="12.78" fill="#f1927d"/>
<rect x="178.35" y="101.37" width="3.56" height="12.78" fill="#f5dfdc"/>
<rect x="181.56" y="101.37" width="3.56" height="12.78" fill="#f3eef1"/>
<rect x="184.77" y="101.37" width="3.56" height="12.78" fill="#f7cdc2"/>
<rect x="187.97" y="101.37" width="3.56" height="12.78" fill="#f7cdc2"/>
<rect x="191.18" y="101.37" width="3.56" height="12.78" fill="#f5dfdc"/>
<rect x="194.39" y="101.37" width="3.56" height="12.78" fill="#f3eef1"/>
<rect x="197.60" y="101.37" width="3.56" height="12.78" fill="#f7cdc2"/>
<rect x="200.80" y="101.37" width="3.56" height="12.78" fill="#f5dfdc"/>
<rect x="204.01" y="101.37" width="3.56" height="12.78" fill="#f7cdc2"/>
<rect x="207.22" y="101.37" width="3.56" height="12.78" fill="#f3eef1"/>
<rect x="210.42" y="101.37" width="3.56" height="12.78" fill="#f7cdc2"/>
<rect x="213.63" y="101.37" width="3.56" height="12.78" fill="#f5dfdc"/>
<rect x="216.84" y="101.37" width="3.56" height="12.78" fill="#f7cdc2"/>
<rect x="220.04" y="101.37" width="3.56" height="12.78" fill="#f3eef1"/>
<rect x="223.25" y="101.37" width="3.56" height="12.78" fill="#d9cee8"/>
<rect x="226.46" y="101.37" width="3.56" height="12.78" fill="#d9cee8"/>
<rect x="229.66" y="101.37" width="3.56" height="12.78" fill="#f3eef1"/>
<rect x="232.87" y="101.37" width="3.56" height="12.78" fill="#d9cee8"/>
<rect x="236.08" y="101.37" width="3.56" height="12.78" fill="#d9cee8"/>
<rect x="239.28" y="101.37" width="3.56" height="12.78" fill="#d9cee8"/>
<rect x="242.49" y="101.37" width="3.56" height="12.78" fill="#d9cee8"/>
<rect x="245.70" y="101.37" width="3.56" height="12.78" fill="#f4aa99"/>
<rect x="248.90" y="101.37" width="3.56" height="12.78" fill="#d9cee8"/>
<rect x="252.11" y="101.37" width="3.56" height="12.78" fill="#bbacd9"/>
<rect x="255.32" y="101.37" width="3.56" height="12.78" fill="#bbacd9"/>
<rect x="258.52" y="101.37" width="3.56" height="12.78" fill="#bbacd9"/>
<rect x="261.73" y="101.37" width="3.56" height="12.78" fill="#bbacd9"/>
<rect x="264.94" y="101.37" width="3.56" height="12.78" fill="#bbacd9"/>
<rect x="268.15" y="101.37" width="3.56" height="12.78" fill="#bbacd9"/>
<rect x="271.35" y="101.37" width="3.56" height="12.78" fill="#bbacd9"/>
<rect x="274.56" y="101.37" width="3.56" height="12.78" fill="#bbacd9"/>
<rect x="277.77" y="101.37" width="3.56" height="12.78" fill="#f3eef1"/>
<rect x="280.97" y="101.37" width="3.56" height="12.78" fill="#bbacd9"/>
<rect x="284.18" y="101.37" width="3.56" height="12.78" fill="#a28fcb"/>
<rect x="287.39" y="101.37" width="3.56" height="12.78" fill="#a28fcb"/>
<rect x="290.59" y="101.37" width="3.56" height="12.78" fill="#a28fcb"/>
<rect x="298.80" y="39.20" width="3.68" height="12.78" fill="#f4aa99"/>
<rect x="302.13" y="39.20" width="3.68" height="12.78" fill="#f3eef1"/>
<rect x="305.47" y="39.20" width="3.68" height="12.78" fill="#f3eef1"/>
<rect x="308.80" y="39.20" width="3.68" height="12.78" fill="#d9cee8"/>
<rect x="312.13" y="39.20" width="3.68" height="12.78" fill="#d9cee8"/>
<rect x="315.47" y="39.20" width="3.68" height="12.78" fill="#8d79c1"/>
<rect x="318.80" y="39.20" width="3.68" height="12.78" fill="#8d79c1"/>
<rect x="322.13" y="39.20" width="3.68" height="12.78" fill="#8d79c1"/>
<rect x="325.47" y="39.20" width="3.68" height="12.78" fill="#8d79c1"/>
<rect x="328.80" y="39.20" width="3.68" height="12.78" fill="#8d79c1"/>
<rect x="332.13" y="39.20" width="3.68" height="12.78" fill="#8d79c1"/>
<rect x="335.47" y="39.20" width="3.68" height="12.78" fill="#7a66b6"/>
<rect x="298.80" y="51.63" width="3.68" height="12.78" fill="#ea5641"/>
<rect x="302.13" y="51.63" width="3.68" height="12.78" fill="#f4aa99"/>
<rect x="305.47" y="51.63" width="3.68" height="12.78" fill="#f7cdc2"/>
<rect x="308.80" y="51.63" width="3.68" height="12.78" fill="#f7cdc2"/>
<rect x="312.13" y="51.63" width="3.68" height="12.78" fill="#f3eef1"/>
<rect x="315.47" y="51.63" width="3.68" height="12.78" fill="#8d79c1"/>
<rect x="318.80" y="51.63" width="3.68" height="12.78" fill="#8d79c1"/>
<rect x="322.13" y="51.63" width="3.68" height="12.78" fill="#8d79c1"/>
<rect x="325.47" y="51.63" width="3.68" height="12.78" fill="#8d79c1"/>
<rect x="328.80" y="51.63" width="3.68" height="12.78" fill="#8d79c1"/>
<rect x="332.13" y="51.63" width="3.68" height="12.78" fill="#8d79c1"/>
<rect x="335.47" y="51.63" width="3.68" height="12.78" fill="#7a66b6"/>
<rect x="298.80" y="64.07" width="3.68" height="12.78" fill="#ea5641"/>
<rect x="302.13" y="64.07" width="3.68" height="12.78" fill="#f4aa99"/>
<rect x="305.47" y="64.07" width="3.68" height="12.78" fill="#f4aa99"/>
<rect x="308.80" y="64.07" width="3.68" height="12.78" fill="#d9cee8"/>
<rect x="312.13" y="64.07" width="3.68" height="12.78" fill="#bbacd9"/>
<rect x="315.47" y="64.07" width="3.68" height="12.78" fill="#f7cdc2"/>
<rect x="318.80" y="64.07" width="3.68" height="12.78" fill="#f4aa99"/>
<rect x="322.13" y="64.07" width="3.68" height="12.78" fill="#8d79c1"/>
<rect x="325.47" y="64.07" width="3.68" height="12.78" fill="#8d79c1"/>
<rect x="328.80" y="64.07" width="3.68" height="12.78" fill="#8d79c1"/>
<rect x="332.13" y="64.07" width="3.68" height="12.78" fill="#8d79c1"/>
<rect x="335.47" y="64.07" width="3.68" height="12.78" fill="#7a66b6"/>
<rect x="298.80" y="76.50" width="3.68" height="12.78" fill="#f5dfdc"/>
<rect x="302.13" y="76.50" width="3.68" height="12.78" fill="#d9cee8"/>
<rect x="305.47" y="76.50" width="3.68" height="12.78" fill="#bbacd9"/>
<rect x="308.80" y="76.50" width="3.68" height="12.78" fill="#8d79c1"/>
<rect x="312.13" y="76.50" width="3.68" height="12.78" fill="#bbacd9"/>
<rect x="315.47" y="76.50" width="3.68" height="12.78" fill="#8d79c1"/>
<rect x="318.80" y="76.50" width="3.68" height="12.78" fill="#8d79c1"/>
<rect x="322.13" y="76.50" width="3.68" height="12.78" fill="#8d79c1"/>
<rect x="325.47" y="76.50" width="3.68" height="12.78" fill="#8d79c1"/>
<rect x="328.80" y="76.50" width="3.68" height="12.78" fill="#8d79c1"/>
<rect x="332.13" y="76.50" width="3.68" height="12.78" fill="#8d79c1"/>
<rect x="335.47" y="76.50" width="3.68" height="12.78" fill="#7a66b6"/>
<rect x="298.80" y="88.93" width="3.68" height="12.78" fill="#e0241a"/>
<rect x="302.13" y="88.93" width="3.68" height="12.78" fill="#f7cdc2"/>
<rect x="305.47" y="88.93" width="3.68" height="12.78" fill="#f3eef1"/>
<rect x="308.80" y="88.93" width="3.68" height="12.78" fill="#f7cdc2"/>
<rect x="312.13" y="88.93" width="3.68" height="12.78" fill="#a28fcb"/>
<rect x="315.47" y="88.93" width="3.68" height="12.78" fill="#d9cee8"/>
<rect x="318.80" y="88.93" width="3.68" height="12.78" fill="#bbacd9"/>
<rect x="322.13" y="88.93" width="3.68" height="12.78" fill="#8d79c1"/>
<rect x="325.47" y="88.93" width="3.68" height="12.78" fill="#8d79c1"/>
<rect x="328.80" y="88.93" width="3.68" height="12.78" fill="#8d79c1"/>
<rect x="332.13" y="88.93" width="3.68" height="12.78" fill="#8d79c1"/>
<rect x="335.47" y="88.93" width="3.68" height="12.78" fill="#7a66b6"/>
<rect x="298.80" y="101.37" width="3.68" height="12.78" fill="#f5dfdc"/>
<rect x="302.13" y="101.37" width="3.68" height="12.78" fill="#d9cee8"/>
<rect x="305.47" y="101.37" width="3.68" height="12.78" fill="#f3eef1"/>
<rect x="308.80" y="101.37" width="3.68" height="12.78" fill="#8d79c1"/>
<rect x="312.13" y="101.37" width="3.68" height="12.78" fill="#bbacd9"/>
<rect x="315.47" y="101.37" width="3.68" height="12.78" fill="#8d79c1"/>
<rect x="318.80" y="101.37" width="3.68" height="12.78" fill="#8d79c1"/>
<rect x="322.13" y="101.37" width="3.68" height="12.78" fill="#8d79c1"/>
<rect x="325.47" y="101.37" width="3.68" height="12.78" fill="#8d79c1"/>
<rect x="328.80" y="101.37" width="3.68" height="12.78" fill="#8d79c1"/>
<rect x="332.13" y="101.37" width="3.68" height="12.78" fill="#8d79c1"/>
<rect x="335.47" y="101.37" width="3.68" height="12.78" fill="#7a66b6"/>
</g>
<rect x="20.00" y="117.3" width="6.10" height="11.5" fill="#f5a20f"/>
<rect x="26.10" y="117.3" width="3.90" height="11.5" fill="#b6bcc4"/>
<rect x="30.00" y="117.3" width="7.60" height="11.5" fill="#f5a20f"/>
<rect x="37.60" y="117.3" width="2.40" height="11.5" fill="#b6bcc4"/>
<rect x="40.00" y="117.3" width="7.80" height="11.5" fill="#f5a20f"/>
<rect x="47.80" y="117.3" width="16.00" height="11.5" fill="#b6bcc4"/>
<rect x="63.80" y="117.3" width="3.90" height="11.5" fill="#f5a20f"/>
<rect x="67.70" y="117.3" width="2.60" height="11.5" fill="#b6bcc4"/>
<rect x="70.30" y="117.3" width="3.70" height="11.5" fill="#f5a20f"/>
<rect x="74.00" y="117.3" width="3.50" height="11.5" fill="#b6bcc4"/>
<rect x="77.50" y="117.3" width="9.80" height="11.5" fill="#f5a20f"/>
<rect x="87.30" y="117.3" width="3.20" height="11.5" fill="#b6bcc4"/>
<rect x="90.50" y="117.3" width="13.80" height="11.5" fill="#f5a20f"/>
<rect x="104.30" y="117.3" width="3.90" height="11.5" fill="#b6bcc4"/>
<rect x="108.20" y="117.3" width="3.30" height="11.5" fill="#f5a20f"/>
<rect x="111.50" y="117.3" width="12.40" height="11.5" fill="#b6bcc4"/>
<rect x="123.90" y="117.3" width="10.40" height="11.5" fill="#f5a20f"/>
<rect x="134.30" y="117.3" width="3.30" height="11.5" fill="#b6bcc4"/>
<rect x="137.60" y="117.3" width="6.80" height="11.5" fill="#f5a20f"/>
<rect x="144.40" y="117.3" width="3.60" height="11.5" fill="#b6bcc4"/>
<rect x="152.70" y="117.3" width="7.30" height="11.5" fill="#f5a20f"/>
<rect x="160.00" y="117.3" width="3.50" height="11.5" fill="#b6bcc4"/>
<rect x="163.50" y="117.3" width="5.70" height="11.5" fill="#f5a20f"/>
<rect x="169.20" y="117.3" width="4.30" height="11.5" fill="#b6bcc4"/>
<rect x="173.50" y="117.3" width="9.50" height="11.5" fill="#f5a20f"/>
<rect x="183.00" y="117.3" width="3.30" height="11.5" fill="#b6bcc4"/>
<rect x="186.30" y="117.3" width="14.20" height="11.5" fill="#f5a20f"/>
<rect x="200.50" y="117.3" width="3.50" height="11.5" fill="#b6bcc4"/>
<rect x="204.00" y="117.3" width="12.10" height="11.5" fill="#f5a20f"/>
<rect x="216.10" y="117.3" width="5.00" height="11.5" fill="#b6bcc4"/>
<rect x="221.10" y="117.3" width="12.30" height="11.5" fill="#f5a20f"/>
<rect x="233.40" y="117.3" width="2.80" height="11.5" fill="#b6bcc4"/>
<rect x="236.20" y="117.3" width="27.80" height="11.5" fill="#f5a20f"/>
<rect x="264.00" y="117.3" width="3.50" height="11.5" fill="#b6bcc4"/>
<rect x="267.50" y="117.3" width="7.10" height="11.5" fill="#f5a20f"/>
<rect x="274.60" y="117.3" width="3.60" height="11.5" fill="#b6bcc4"/>
<rect x="278.20" y="117.3" width="9.90" height="11.5" fill="#f5a20f"/>
<rect x="288.10" y="117.3" width="2.20" height="11.5" fill="#b6bcc4"/>
<rect x="290.30" y="117.3" width="3.50" height="11.5" fill="#f5a20f"/>
<rect x="298.80" y="117.3" width="40.00" height="11.5" fill="#f5a20f"/>
<g font-family='"Liberation Sans", sans-serif'>
<text x="7.30" y="18.20" font-size="12.30" text-anchor="start" fill="#000" font-weight="bold" stroke="#000" stroke-width="0.40" >A</text>
<text x="7.80" y="156.20" font-size="11.50" text-anchor="start" fill="#000" font-weight="bold" stroke="#000" stroke-width="0.40" >B</text>
<text x="167.00" y="160.80" font-size="11.50" text-anchor="start" fill="#000" font-weight="bold" stroke="#000" stroke-width="0.40" >C</text>
<text x="7.50" y="343.90" font-size="11.50" text-anchor="start" fill="#000" font-weight="bold" stroke="#000" stroke-width="0.40" >D</text>
<text x="342.80" y="46.10" font-size="8.27" text-anchor="start" fill="#1d1b1c" font-weight="normal" stroke="#1d1b1c" stroke-width="0.12" >Bulk NK cells</text>
<text x="342.80" y="59.02" font-size="8.27" text-anchor="start" fill="#1d1b1c" font-weight="normal" stroke="#1d1b1c" stroke-width="0.12" >NKG2A<tspan dy="-3.0" font-size="5.8">+</tspan></text>
<text x="342.80" y="71.94" font-size="8.27" text-anchor="start" fill="#1d1b1c" font-weight="normal" stroke="#1d1b1c" stroke-width="0.12" >KIR2DL1<tspan dy="-3.0" font-size="5.8">+</tspan></text>
<text x="342.80" y="84.86" font-size="8.27" text-anchor="start" fill="#1d1b1c" font-weight="normal" stroke="#1d1b1c" stroke-width="0.12" >KIR2DL3<tspan dy="-3.0" font-size="5.8">+</tspan></text>
<text x="342.80" y="97.78" font-size="8.27" text-anchor="start" fill="#1d1b1c" font-weight="normal" stroke="#1d1b1c" stroke-width="0.12" >KIR3DL1<tspan dy="-3.0" font-size="5.8">+</tspan></text>
<text x="342.80" y="110.70" font-size="8.27" text-anchor="start" fill="#1d1b1c" font-weight="normal" stroke="#1d1b1c" stroke-width="0.12" >CD57<tspan dy="-3.0" font-size="5.8">+</tspan></text>
<defs><linearGradient id="cb" x1="0" y1="0" x2="0" y2="1"><stop offset="0" stop-color="#e0281c"/><stop offset="0.18" stop-color="#e43a26"/><stop offset="0.36" stop-color="#f2a08c"/><stop offset="0.5" stop-color="#f3eef2"/><stop offset="0.64" stop-color="#a898d6"/><stop offset="0.8" stop-color="#4a54b8"/><stop offset="1" stop-color="#3e4cb4"/></linearGradient></defs>
<rect x="413" y="43.8" width="11" height="60.2" fill="url(#cb)"/>
<text x="427.00" y="50.40" font-size="8.00" text-anchor="start" fill="#1d1b1c" font-weight="normal" stroke="#1d1b1c" stroke-width="0.12" >4</text>
<text x="427.00" y="64.10" font-size="8.00" text-anchor="start" fill="#1d1b1c" font-weight="normal" stroke="#1d1b1c" stroke-width="0.12" >2</text>
<text x="427.00" y="77.80" font-size="8.00" text-anchor="start" fill="#1d1b1c" font-weight="normal" stroke="#1d1b1c" stroke-width="0.12" >0</text>
<text x="427.00" y="91.50" font-size="8.00" text-anchor="start" fill="#1d1b1c" font-weight="normal" stroke="#1d1b1c" stroke-width="0.12" >−2</text>
<text x="427.00" y="105.20" font-size="8.00" text-anchor="start" fill="#1d1b1c" font-weight="normal" stroke="#1d1b1c" stroke-width="0.12" >−4</text>
<text x="396.30" y="115.20" font-size="8.00" text-anchor="start" fill="#1d1b1c" font-weight="normal" stroke="#1d1b1c" stroke-width="0.12" >Granzyme B</text>
<text x="451.90" y="37.30" font-size="8.40" text-anchor="start" fill="#1d1b1c" font-weight="normal" stroke="#1d1b1c" stroke-width="0.12" >HLA·C status</text>
<rect x="455.1" y="44.50" width="6.1" height="6.1" fill="#1c6a34"/>
<text x="464.50" y="50.30" font-size="8.15" text-anchor="start" fill="#1d1b1c" font-weight="normal" stroke="#1d1b1c" stroke-width="0.12" >C1C1 donors</text>
<rect x="455.1" y="56.75" width="6.1" height="6.1" fill="#bfbfbf"/>
<text x="464.50" y="62.55" font-size="8.15" text-anchor="start" fill="#1d1b1c" font-weight="normal" stroke="#1d1b1c" stroke-width="0.12" >C1C2 donors</text>
<rect x="455.1" y="69.00" width="6.1" height="6.1" fill="#1c4f96"/>
<text x="464.50" y="74.80" font-size="8.15" text-anchor="start" fill="#1d1b1c" font-weight="normal" stroke="#1d1b1c" stroke-width="0.12" >C2C2 donors</text>
<text x="451.90" y="93.70" font-size="8.50" text-anchor="start" fill="#1d1b1c" font-weight="normal" stroke="#1d1b1c" stroke-width="0.12" >Bw4 status</text>
<rect x="455.1" y="101.3" width="6.1" height="6.1" fill="#bdbdc3"/>
<rect x="455.1" y="113.2" width="6.1" height="6.1" fill="#f5a20f"/>
<text x="464.50" y="107.20" font-size="8.15" text-anchor="start" fill="#1d1b1c" font-weight="normal" stroke="#1d1b1c" stroke-width="0.12" >Bw4<tspan dy="-3.0" font-size="5.8">−</tspan></text>
<text x="464.50" y="119.00" font-size="8.15" text-anchor="start" fill="#1d1b1c" font-weight="normal" stroke="#1d1b1c" stroke-width="0.12" >Bw4<tspan dy="-3.0" font-size="5.8">+</tspan></text>
</g>
<g font-family='"Liberation Sans", sans-serif'>
<line x1="51.20" y1="198.50" x2="51.20" y2="285.80" stroke="#000" stroke-width="1.10" />
<line x1="48.10" y1="198.50" x2="54.60" y2="198.50" stroke="#000" stroke-width="1.00" />
<line x1="51.20" y1="170.20" x2="51.20" y2="183.30" stroke="#000" stroke-width="1.10" />
<line x1="48.10" y1="172.70" x2="51.20" y2="172.70" stroke="#000" stroke-width="1.00" />
<line x1="48.10" y1="183.30" x2="54.60" y2="183.30" stroke="#000" stroke-width="1.00" />
<line x1="48.10" y1="285.30" x2="51.20" y2="285.30" stroke="#000" stroke-width="1.00" />
<line x1="48.10" y1="267.96" x2="51.20" y2="267.96" stroke="#000" stroke-width="1.00" />
<line x1="48.10" y1="250.62" x2="51.20" y2="250.62" stroke="#000" stroke-width="1.00" />
<line x1="48.10" y1="233.28" x2="51.20" y2="233.28" stroke="#000" stroke-width="1.00" />
<line x1="48.10" y1="215.94" x2="51.20" y2="215.94" stroke="#000" stroke-width="1.00" />
<text x="45.30" y="288.45" font-size="8.80" text-anchor="end" fill="#1d1b1c" font-weight="normal" stroke="#1d1b1c" stroke-width="0.12" >0</text>
<text x="45.30" y="271.11" font-size="8.80" text-anchor="end" fill="#1d1b1c" font-weight="normal" stroke="#1d1b1c" stroke-width="0.12" >2</text>
<text x="45.30" y="253.77" font-size="8.80" text-anchor="end" fill="#1d1b1c" font-weight="normal" stroke="#1d1b1c" stroke-width="0.12" >4</text>
<text x="45.30" y="236.43" font-size="8.80" text-anchor="end" fill="#1d1b1c" font-weight="normal" stroke="#1d1b1c" stroke-width="0.12" >6</text>
<text x="45.30" y="219.09" font-size="8.80" text-anchor="end" fill="#1d1b1c" font-weight="normal" stroke="#1d1b1c" stroke-width="0.12" >8</text>
<text x="45.30" y="201.75" font-size="8.80" text-anchor="end" fill="#1d1b1c" font-weight="normal" stroke="#1d1b1c" stroke-width="0.12" >10</text>
<text x="45.00" y="176.50" font-size="8.40" text-anchor="end" fill="#1d1b1c" font-weight="normal" stroke="#1d1b1c" stroke-width="0.12" >14</text>
<text x="45.00" y="187.10" font-size="8.40" text-anchor="end" fill="#1d1b1c" font-weight="normal" stroke="#1d1b1c" stroke-width="0.12" >12</text>
<line x1="50.70" y1="285.30" x2="127.70" y2="285.30" stroke="#000" stroke-width="1.10" />
<line x1="62.80" y1="285.30" x2="62.80" y2="288.70" stroke="#000" stroke-width="1.00" />
<line x1="80.50" y1="285.30" x2="80.50" y2="288.70" stroke="#000" stroke-width="1.00" />
<line x1="98.10" y1="285.30" x2="98.10" y2="288.70" stroke="#000" stroke-width="1.00" />
<line x1="115.90" y1="285.30" x2="115.90" y2="288.70" stroke="#000" stroke-width="1.00" />
<text x="65.40" y="295.00" font-size="8.6" text-anchor="end" fill="#231f20" stroke="#231f20" stroke-width="0.1" transform="rotate(-45 65.40 295.00)">C1C1</text>
<text x="83.10" y="295.00" font-size="8.6" text-anchor="end" fill="#231f20" stroke="#231f20" stroke-width="0.1" transform="rotate(-45 83.10 295.00)">C2C2</text>
<text x="100.70" y="295.00" font-size="8.6" text-anchor="end" fill="#231f20" stroke="#231f20" stroke-width="0.1" transform="rotate(-45 100.70 295.00)">C1C2</text>
<text x="118.50" y="295.00" font-size="8.6" text-anchor="end" fill="#231f20" stroke="#231f20" stroke-width="0.1" transform="rotate(-45 118.50 295.00)">all Bw4</text>
<g transform="translate(28.50 269.80) rotate(-90)">
<text x="0.00" y="0" font-size="10.30" fill="#231f20" stroke="#231f20" stroke-width="0.32" textLength="31.20" lengthAdjust="spacingAndGlyphs">Granzyme</text>
<text x="33.80" y="0" font-size="10.30" fill="#231f20" stroke="#231f20" stroke-width="0.32" textLength="4.60" lengthAdjust="spacingAndGlyphs">B</text>
<text x="41.30" y="0" font-size="10.30" fill="#231f20" stroke="#231f20" stroke-width="0.32" textLength="18.50" lengthAdjust="spacingAndGlyphs">(MFI)</text>
<text x="62.10" y="0" font-size="10.30" fill="#231f20" stroke="#231f20" stroke-width="0.32" textLength="23.20" lengthAdjust="spacingAndGlyphs">bulk/nil</text>
</g>
<line x1="63.50" y1="172.50" x2="113.80" y2="172.50" stroke="#000" stroke-width="1.10" />
<text x="88.80" y="170.60" font-size="8.30" text-anchor="middle" fill="#1d1b1c" font-weight="normal" stroke="#1d1b1c" stroke-width="0.12" >ns</text>
<circle cx="62.74" cy="276.63" r="1.75" fill="none" stroke="#3aab47" stroke-width="1.0"/>
<circle cx="60.26" cy="275.24" r="1.75" fill="none" stroke="#3aab47" stroke-width="1.0"/>
<circle cx="62.22" cy="274.74" r="1.75" fill="none" stroke="#3aab47" stroke-width="1.0"/>
<circle cx="64.44" cy="274.35" r="1.75" fill="none" stroke="#3aab47" stroke-width="1.0"/>
<circle cx="65.93" cy="274.89" r="1.75" fill="none" stroke="#3aab47" stroke-width="1.0"/>
<circle cx="58.10" cy="272.34" r="1.75" fill="none" stroke="#3aab47" stroke-width="1.0"/>
<circle cx="59.53" cy="272.34" r="1.75" fill="none" stroke="#3aab47" stroke-width="1.0"/>
<circle cx="62.16" cy="273.06" r="1.75" fill="none" stroke="#3aab47" stroke-width="1.0"/>
<circle cx="63.26" cy="273.41" r="1.75" fill="none" stroke="#3aab47" stroke-width="1.0"/>
<circle cx="66.39" cy="273.01" r="1.75" fill="none" stroke="#3aab47" stroke-width="1.0"/>
<circle cx="67.99" cy="272.42" r="1.75" fill="none" stroke="#3aab47" stroke-width="1.0"/>
<circle cx="56.98" cy="270.96" r="1.75" fill="none" stroke="#3aab47" stroke-width="1.0"/>
<circle cx="59.33" cy="270.56" r="1.75" fill="none" stroke="#3aab47" stroke-width="1.0"/>
<circle cx="61.84" cy="270.37" r="1.75" fill="none" stroke="#3aab47" stroke-width="1.0"/>
<circle cx="64.40" cy="270.86" r="1.75" fill="none" stroke="#3aab47" stroke-width="1.0"/>
<circle cx="67.15" cy="270.95" r="1.75" fill="none" stroke="#3aab47" stroke-width="1.0"/>
<circle cx="68.70" cy="270.93" r="1.75" fill="none" stroke="#3aab47" stroke-width="1.0"/>
<circle cx="57.07" cy="268.98" r="1.75" fill="none" stroke="#3aab47" stroke-width="1.0"/>
<circle cx="58.98" cy="269.63" r="1.75" fill="none" stroke="#3aab47" stroke-width="1.0"/>
<circle cx="62.21" cy="269.44" r="1.75" fill="none" stroke="#3aab47" stroke-width="1.0"/>
<circle cx="64.23" cy="268.81" r="1.75" fill="none" stroke="#3aab47" stroke-width="1.0"/>
<circle cx="66.03" cy="268.78" r="1.75" fill="none" stroke="#3aab47" stroke-width="1.0"/>
<circle cx="68.21" cy="269.35" r="1.75" fill="none" stroke="#3aab47" stroke-width="1.0"/>
<circle cx="57.07" cy="267.55" r="1.75" fill="none" stroke="#3aab47" stroke-width="1.0"/>
<circle cx="59.09" cy="267.68" r="1.75" fill="none" stroke="#3aab47" stroke-width="1.0"/>
<circle cx="61.68" cy="266.53" r="1.75" fill="none" stroke="#3aab47" stroke-width="1.0"/>
<circle cx="62.95" cy="267.62" r="1.75" fill="none" stroke="#3aab47" stroke-width="1.0"/>
<circle cx="65.30" cy="267.71" r="1.75" fill="none" stroke="#3aab47" stroke-width="1.0"/>
<circle cx="67.25" cy="266.62" r="1.75" fill="none" stroke="#3aab47" stroke-width="1.0"/>
<circle cx="69.07" cy="267.46" r="1.75" fill="none" stroke="#3aab47" stroke-width="1.0"/>
<circle cx="56.52" cy="264.73" r="1.75" fill="none" stroke="#3aab47" stroke-width="1.0"/>
<circle cx="58.59" cy="265.79" r="1.75" fill="none" stroke="#3aab47" stroke-width="1.0"/>
<circle cx="61.11" cy="264.77" r="1.75" fill="none" stroke="#3aab47" stroke-width="1.0"/>
<circle cx="62.50" cy="264.75" r="1.75" fill="none" stroke="#3aab47" stroke-width="1.0"/>
<circle cx="64.27" cy="265.59" r="1.75" fill="none" stroke="#3aab47" stroke-width="1.0"/>
<circle cx="66.42" cy="265.30" r="1.75" fill="none" stroke="#3aab47" stroke-width="1.0"/>
<circle cx="68.75" cy="264.86" r="1.75" fill="none" stroke="#3aab47" stroke-width="1.0"/>
<circle cx="57.93" cy="262.89" r="1.75" fill="none" stroke="#3aab47" stroke-width="1.0"/>
<circle cx="60.09" cy="262.87" r="1.75" fill="none" stroke="#3aab47" stroke-width="1.0"/>
<circle cx="62.08" cy="262.99" r="1.75" fill="none" stroke="#3aab47" stroke-width="1.0"/>
<circle cx="64.15" cy="263.90" r="1.75" fill="none" stroke="#3aab47" stroke-width="1.0"/>
<circle cx="67.05" cy="263.09" r="1.75" fill="none" stroke="#3aab47" stroke-width="1.0"/>
<circle cx="68.91" cy="262.98" r="1.75" fill="none" stroke="#3aab47" stroke-width="1.0"/>
<circle cx="57.40" cy="261.86" r="1.75" fill="none" stroke="#3aab47" stroke-width="1.0"/>
<circle cx="59.80" cy="260.95" r="1.75" fill="none" stroke="#3aab47" stroke-width="1.0"/>
<circle cx="62.33" cy="261.09" r="1.75" fill="none" stroke="#3aab47" stroke-width="1.0"/>
<circle cx="63.57" cy="261.76" r="1.75" fill="none" stroke="#3aab47" stroke-width="1.0"/>
<circle cx="65.76" cy="261.19" r="1.75" fill="none" stroke="#3aab47" stroke-width="1.0"/>
<circle cx="67.57" cy="260.94" r="1.75" fill="none" stroke="#3aab47" stroke-width="1.0"/>
<circle cx="58.89" cy="259.22" r="1.75" fill="none" stroke="#3aab47" stroke-width="1.0"/>
<circle cx="61.17" cy="259.38" r="1.75" fill="none" stroke="#3aab47" stroke-width="1.0"/>
<circle cx="63.24" cy="260.08" r="1.75" fill="none" stroke="#3aab47" stroke-width="1.0"/>
<circle cx="65.54" cy="259.62" r="1.75" fill="none" stroke="#3aab47" stroke-width="1.0"/>
<circle cx="67.75" cy="259.15" r="1.75" fill="none" stroke="#3aab47" stroke-width="1.0"/>
<circle cx="58.75" cy="258.12" r="1.75" fill="none" stroke="#3aab47" stroke-width="1.0"/>
<circle cx="61.97" cy="257.33" r="1.75" fill="none" stroke="#3aab47" stroke-width="1.0"/>
<circle cx="63.64" cy="257.92" r="1.75" fill="none" stroke="#3aab47" stroke-width="1.0"/>
<circle cx="66.96" cy="257.27" r="1.75" fill="none" stroke="#3aab47" stroke-width="1.0"/>
<circle cx="61.08" cy="256.19" r="1.75" fill="none" stroke="#3aab47" stroke-width="1.0"/>
<circle cx="63.42" cy="255.64" r="1.75" fill="none" stroke="#3aab47" stroke-width="1.0"/>
<circle cx="65.08" cy="255.18" r="1.75" fill="none" stroke="#3aab47" stroke-width="1.0"/>
<circle cx="61.47" cy="253.52" r="1.75" fill="none" stroke="#3aab47" stroke-width="1.0"/>
<circle cx="64.93" cy="253.54" r="1.75" fill="none" stroke="#3aab47" stroke-width="1.0"/>
<circle cx="63.19" cy="252.05" r="1.75" fill="none" stroke="#3aab47" stroke-width="1.0"/>
<circle cx="62.55" cy="251.49" r="1.75" fill="none" stroke="#3aab47" stroke-width="1.0"/>
<circle cx="62.41" cy="248.89" r="1.75" fill="none" stroke="#3aab47" stroke-width="1.0"/>
<circle cx="63.06" cy="246.29" r="1.75" fill="none" stroke="#3aab47" stroke-width="1.0"/>
<circle cx="62.28" cy="243.68" r="1.75" fill="none" stroke="#3aab47" stroke-width="1.0"/>
<circle cx="62.47" cy="241.08" r="1.75" fill="none" stroke="#3aab47" stroke-width="1.0"/>
<circle cx="62.87" cy="238.48" r="1.75" fill="none" stroke="#3aab47" stroke-width="1.0"/>
<circle cx="63.22" cy="235.88" r="1.75" fill="none" stroke="#3aab47" stroke-width="1.0"/>
<circle cx="62.94" cy="233.28" r="1.75" fill="none" stroke="#3aab47" stroke-width="1.0"/>
<circle cx="62.54" cy="209.44" r="1.75" fill="none" stroke="#3aab47" stroke-width="1.0"/>
<circle cx="63.30" cy="279.23" r="1.75" fill="none" stroke="#3aab47" stroke-width="1.0"/>
<circle cx="62.44" cy="277.06" r="1.75" fill="none" stroke="#3aab47" stroke-width="1.0"/>
<circle cx="79.92" cy="275.76" r="1.75" fill="none" stroke="#1f559c" stroke-width="1.0"/>
<circle cx="77.79" cy="273.80" r="1.75" fill="none" stroke="#1f559c" stroke-width="1.0"/>
<circle cx="80.47" cy="273.47" r="1.75" fill="none" stroke="#1f559c" stroke-width="1.0"/>
<circle cx="83.28" cy="273.95" r="1.75" fill="none" stroke="#1f559c" stroke-width="1.0"/>
<circle cx="75.59" cy="271.80" r="1.75" fill="none" stroke="#1f559c" stroke-width="1.0"/>
<circle cx="78.74" cy="272.54" r="1.75" fill="none" stroke="#1f559c" stroke-width="1.0"/>
<circle cx="80.69" cy="272.19" r="1.75" fill="none" stroke="#1f559c" stroke-width="1.0"/>
<circle cx="82.84" cy="271.53" r="1.75" fill="none" stroke="#1f559c" stroke-width="1.0"/>
<circle cx="84.41" cy="271.38" r="1.75" fill="none" stroke="#1f559c" stroke-width="1.0"/>
<circle cx="75.85" cy="270.30" r="1.75" fill="none" stroke="#1f559c" stroke-width="1.0"/>
<circle cx="78.17" cy="269.49" r="1.75" fill="none" stroke="#1f559c" stroke-width="1.0"/>
<circle cx="80.04" cy="270.04" r="1.75" fill="none" stroke="#1f559c" stroke-width="1.0"/>
<circle cx="82.40" cy="269.85" r="1.75" fill="none" stroke="#1f559c" stroke-width="1.0"/>
<circle cx="84.98" cy="269.55" r="1.75" fill="none" stroke="#1f559c" stroke-width="1.0"/>
<circle cx="86.19" cy="270.35" r="1.75" fill="none" stroke="#1f559c" stroke-width="1.0"/>
<circle cx="75.20" cy="268.45" r="1.75" fill="none" stroke="#1f559c" stroke-width="1.0"/>
<circle cx="77.27" cy="268.51" r="1.75" fill="none" stroke="#1f559c" stroke-width="1.0"/>
<circle cx="79.84" cy="267.99" r="1.75" fill="none" stroke="#1f559c" stroke-width="1.0"/>
<circle cx="81.88" cy="268.64" r="1.75" fill="none" stroke="#1f559c" stroke-width="1.0"/>
<circle cx="84.42" cy="268.06" r="1.75" fill="none" stroke="#1f559c" stroke-width="1.0"/>
<circle cx="86.63" cy="268.60" r="1.75" fill="none" stroke="#1f559c" stroke-width="1.0"/>
<circle cx="75.16" cy="266.41" r="1.75" fill="none" stroke="#1f559c" stroke-width="1.0"/>
<circle cx="77.30" cy="266.36" r="1.75" fill="none" stroke="#1f559c" stroke-width="1.0"/>
<circle cx="79.94" cy="265.76" r="1.75" fill="none" stroke="#1f559c" stroke-width="1.0"/>
<circle cx="82.35" cy="266.85" r="1.75" fill="none" stroke="#1f559c" stroke-width="1.0"/>
<circle cx="85.01" cy="266.54" r="1.75" fill="none" stroke="#1f559c" stroke-width="1.0"/>
<circle cx="86.30" cy="266.55" r="1.75" fill="none" stroke="#1f559c" stroke-width="1.0"/>
<circle cx="75.00" cy="264.29" r="1.75" fill="none" stroke="#1f559c" stroke-width="1.0"/>
<circle cx="77.55" cy="263.86" r="1.75" fill="none" stroke="#1f559c" stroke-width="1.0"/>
<circle cx="79.68" cy="263.80" r="1.75" fill="none" stroke="#1f559c" stroke-width="1.0"/>
<circle cx="81.74" cy="264.34" r="1.75" fill="none" stroke="#1f559c" stroke-width="1.0"/>
<circle cx="83.54" cy="264.60" r="1.75" fill="none" stroke="#1f559c" stroke-width="1.0"/>
<circle cx="86.09" cy="264.50" r="1.75" fill="none" stroke="#1f559c" stroke-width="1.0"/>
<circle cx="76.67" cy="262.17" r="1.75" fill="none" stroke="#1f559c" stroke-width="1.0"/>
<circle cx="78.00" cy="262.22" r="1.75" fill="none" stroke="#1f559c" stroke-width="1.0"/>
<circle cx="81.21" cy="262.11" r="1.75" fill="none" stroke="#1f559c" stroke-width="1.0"/>
<circle cx="83.02" cy="262.95" r="1.75" fill="none" stroke="#1f559c" stroke-width="1.0"/>
<circle cx="85.52" cy="262.39" r="1.75" fill="none" stroke="#1f559c" stroke-width="1.0"/>
<circle cx="77.44" cy="260.36" r="1.75" fill="none" stroke="#1f559c" stroke-width="1.0"/>
<circle cx="79.52" cy="260.20" r="1.75" fill="none" stroke="#1f559c" stroke-width="1.0"/>
<circle cx="81.59" cy="260.93" r="1.75" fill="none" stroke="#1f559c" stroke-width="1.0"/>
<circle cx="84.52" cy="261.02" r="1.75" fill="none" stroke="#1f559c" stroke-width="1.0"/>
<circle cx="78.87" cy="258.76" r="1.75" fill="none" stroke="#1f559c" stroke-width="1.0"/>
<circle cx="82.27" cy="258.23" r="1.75" fill="none" stroke="#1f559c" stroke-width="1.0"/>
<circle cx="80.50" cy="256.76" r="1.75" fill="none" stroke="#1f559c" stroke-width="1.0"/>
<circle cx="80.90" cy="256.69" r="1.75" fill="none" stroke="#1f559c" stroke-width="1.0"/>
<circle cx="80.92" cy="254.26" r="1.75" fill="none" stroke="#1f559c" stroke-width="1.0"/>
<circle cx="80.75" cy="251.83" r="1.75" fill="none" stroke="#1f559c" stroke-width="1.0"/>
<circle cx="81.04" cy="249.41" r="1.75" fill="none" stroke="#1f559c" stroke-width="1.0"/>
<circle cx="80.23" cy="246.98" r="1.75" fill="none" stroke="#1f559c" stroke-width="1.0"/>
<circle cx="80.10" cy="244.55" r="1.75" fill="none" stroke="#1f559c" stroke-width="1.0"/>
<circle cx="98.04" cy="277.06" r="1.75" fill="none" stroke="#d3123a" stroke-width="1.0"/>
<circle cx="95.22" cy="274.82" r="1.75" fill="none" stroke="#d3123a" stroke-width="1.0"/>
<circle cx="97.46" cy="275.31" r="1.75" fill="none" stroke="#d3123a" stroke-width="1.0"/>
<circle cx="99.63" cy="274.94" r="1.75" fill="none" stroke="#d3123a" stroke-width="1.0"/>
<circle cx="101.62" cy="275.74" r="1.75" fill="none" stroke="#d3123a" stroke-width="1.0"/>
<circle cx="93.67" cy="272.75" r="1.75" fill="none" stroke="#d3123a" stroke-width="1.0"/>
<circle cx="95.35" cy="273.71" r="1.75" fill="none" stroke="#d3123a" stroke-width="1.0"/>
<circle cx="97.55" cy="273.51" r="1.75" fill="none" stroke="#d3123a" stroke-width="1.0"/>
<circle cx="100.37" cy="273.03" r="1.75" fill="none" stroke="#d3123a" stroke-width="1.0"/>
<circle cx="102.83" cy="272.69" r="1.75" fill="none" stroke="#d3123a" stroke-width="1.0"/>
<circle cx="92.56" cy="271.31" r="1.75" fill="none" stroke="#d3123a" stroke-width="1.0"/>
<circle cx="94.67" cy="271.76" r="1.75" fill="none" stroke="#d3123a" stroke-width="1.0"/>
<circle cx="97.16" cy="270.93" r="1.75" fill="none" stroke="#d3123a" stroke-width="1.0"/>
<circle cx="99.18" cy="271.52" r="1.75" fill="none" stroke="#d3123a" stroke-width="1.0"/>
<circle cx="101.90" cy="271.52" r="1.75" fill="none" stroke="#d3123a" stroke-width="1.0"/>
<circle cx="103.89" cy="271.73" r="1.75" fill="none" stroke="#d3123a" stroke-width="1.0"/>
<circle cx="92.95" cy="269.68" r="1.75" fill="none" stroke="#d3123a" stroke-width="1.0"/>
<circle cx="94.32" cy="269.43" r="1.75" fill="none" stroke="#d3123a" stroke-width="1.0"/>
<circle cx="96.57" cy="268.88" r="1.75" fill="none" stroke="#d3123a" stroke-width="1.0"/>
<circle cx="99.21" cy="269.72" r="1.75" fill="none" stroke="#d3123a" stroke-width="1.0"/>
<circle cx="101.14" cy="269.19" r="1.75" fill="none" stroke="#d3123a" stroke-width="1.0"/>
<circle cx="103.62" cy="269.70" r="1.75" fill="none" stroke="#d3123a" stroke-width="1.0"/>
<circle cx="92.83" cy="267.70" r="1.75" fill="none" stroke="#d3123a" stroke-width="1.0"/>
<circle cx="95.43" cy="267.44" r="1.75" fill="none" stroke="#d3123a" stroke-width="1.0"/>
<circle cx="97.79" cy="268.05" r="1.75" fill="none" stroke="#d3123a" stroke-width="1.0"/>
<circle cx="99.26" cy="268.08" r="1.75" fill="none" stroke="#d3123a" stroke-width="1.0"/>
<circle cx="102.35" cy="267.12" r="1.75" fill="none" stroke="#d3123a" stroke-width="1.0"/>
<circle cx="103.84" cy="267.71" r="1.75" fill="none" stroke="#d3123a" stroke-width="1.0"/>
<circle cx="92.70" cy="265.52" r="1.75" fill="none" stroke="#d3123a" stroke-width="1.0"/>
<circle cx="94.65" cy="266.12" r="1.75" fill="none" stroke="#d3123a" stroke-width="1.0"/>
<circle cx="97.28" cy="266.20" r="1.75" fill="none" stroke="#d3123a" stroke-width="1.0"/>
<circle cx="99.24" cy="265.85" r="1.75" fill="none" stroke="#d3123a" stroke-width="1.0"/>
<circle cx="101.28" cy="265.93" r="1.75" fill="none" stroke="#d3123a" stroke-width="1.0"/>
<circle cx="104.38" cy="265.83" r="1.75" fill="none" stroke="#d3123a" stroke-width="1.0"/>
<circle cx="92.87" cy="263.42" r="1.75" fill="none" stroke="#d3123a" stroke-width="1.0"/>
<circle cx="95.48" cy="264.34" r="1.75" fill="none" stroke="#d3123a" stroke-width="1.0"/>
<circle cx="97.97" cy="263.81" r="1.75" fill="none" stroke="#d3123a" stroke-width="1.0"/>
<circle cx="100.15" cy="263.55" r="1.75" fill="none" stroke="#d3123a" stroke-width="1.0"/>
<circle cx="102.69" cy="264.19" r="1.75" fill="none" stroke="#d3123a" stroke-width="1.0"/>
<circle cx="103.91" cy="263.26" r="1.75" fill="none" stroke="#d3123a" stroke-width="1.0"/>
<circle cx="92.50" cy="261.92" r="1.75" fill="none" stroke="#d3123a" stroke-width="1.0"/>
<circle cx="95.11" cy="261.85" r="1.75" fill="none" stroke="#d3123a" stroke-width="1.0"/>
<circle cx="96.43" cy="262.23" r="1.75" fill="none" stroke="#d3123a" stroke-width="1.0"/>
<circle cx="98.68" cy="262.22" r="1.75" fill="none" stroke="#d3123a" stroke-width="1.0"/>
<circle cx="101.02" cy="261.67" r="1.75" fill="none" stroke="#d3123a" stroke-width="1.0"/>
<circle cx="103.97" cy="261.43" r="1.75" fill="none" stroke="#d3123a" stroke-width="1.0"/>
<circle cx="93.16" cy="259.98" r="1.75" fill="none" stroke="#d3123a" stroke-width="1.0"/>
<circle cx="95.86" cy="260.37" r="1.75" fill="none" stroke="#d3123a" stroke-width="1.0"/>
<circle cx="97.82" cy="260.50" r="1.75" fill="none" stroke="#d3123a" stroke-width="1.0"/>
<circle cx="99.59" cy="260.50" r="1.75" fill="none" stroke="#d3123a" stroke-width="1.0"/>
<circle cx="101.11" cy="259.63" r="1.75" fill="none" stroke="#d3123a" stroke-width="1.0"/>
<circle cx="103.15" cy="259.71" r="1.75" fill="none" stroke="#d3123a" stroke-width="1.0"/>
<circle cx="93.97" cy="258.23" r="1.75" fill="none" stroke="#d3123a" stroke-width="1.0"/>
<circle cx="95.93" cy="258.48" r="1.75" fill="none" stroke="#d3123a" stroke-width="1.0"/>
<circle cx="98.17" cy="257.84" r="1.75" fill="none" stroke="#d3123a" stroke-width="1.0"/>
<circle cx="100.16" cy="258.48" r="1.75" fill="none" stroke="#d3123a" stroke-width="1.0"/>
<circle cx="102.98" cy="257.71" r="1.75" fill="none" stroke="#d3123a" stroke-width="1.0"/>
<circle cx="95.67" cy="256.73" r="1.75" fill="none" stroke="#d3123a" stroke-width="1.0"/>
<circle cx="97.51" cy="256.25" r="1.75" fill="none" stroke="#d3123a" stroke-width="1.0"/>
<circle cx="99.36" cy="256.21" r="1.75" fill="none" stroke="#d3123a" stroke-width="1.0"/>
<circle cx="101.45" cy="256.29" r="1.75" fill="none" stroke="#d3123a" stroke-width="1.0"/>
<circle cx="95.24" cy="254.83" r="1.75" fill="none" stroke="#d3123a" stroke-width="1.0"/>
<circle cx="98.12" cy="254.14" r="1.75" fill="none" stroke="#d3123a" stroke-width="1.0"/>
<circle cx="100.76" cy="254.34" r="1.75" fill="none" stroke="#d3123a" stroke-width="1.0"/>
<circle cx="98.09" cy="252.59" r="1.75" fill="none" stroke="#d3123a" stroke-width="1.0"/>
<circle cx="97.58" cy="251.49" r="1.75" fill="none" stroke="#d3123a" stroke-width="1.0"/>
<circle cx="98.15" cy="249.32" r="1.75" fill="none" stroke="#d3123a" stroke-width="1.0"/>
<circle cx="98.00" cy="247.15" r="1.75" fill="none" stroke="#d3123a" stroke-width="1.0"/>
<circle cx="98.65" cy="244.98" r="1.75" fill="none" stroke="#d3123a" stroke-width="1.0"/>
<circle cx="98.61" cy="242.82" r="1.75" fill="none" stroke="#d3123a" stroke-width="1.0"/>
<circle cx="97.82" cy="240.65" r="1.75" fill="none" stroke="#d3123a" stroke-width="1.0"/>
<circle cx="98.07" cy="180.65" r="1.75" fill="none" stroke="#d3123a" stroke-width="1.0"/>
<circle cx="97.65" cy="214.21" r="1.75" fill="none" stroke="#d3123a" stroke-width="1.0"/>
<circle cx="98.02" cy="224.61" r="1.75" fill="none" stroke="#d3123a" stroke-width="1.0"/>
<circle cx="98.48" cy="279.23" r="1.75" fill="none" stroke="#d3123a" stroke-width="1.0"/>
<circle cx="98.58" cy="277.93" r="1.75" fill="none" stroke="#d3123a" stroke-width="1.0"/>
<circle cx="115.87" cy="277.06" r="1.75" fill="none" stroke="#f6a11b" stroke-width="1.0"/>
<circle cx="113.25" cy="274.79" r="1.75" fill="none" stroke="#f6a11b" stroke-width="1.0"/>
<circle cx="116.54" cy="275.67" r="1.75" fill="none" stroke="#f6a11b" stroke-width="1.0"/>
<circle cx="118.38" cy="275.50" r="1.75" fill="none" stroke="#f6a11b" stroke-width="1.0"/>
<circle cx="110.94" cy="272.90" r="1.75" fill="none" stroke="#f6a11b" stroke-width="1.0"/>
<circle cx="113.38" cy="273.49" r="1.75" fill="none" stroke="#f6a11b" stroke-width="1.0"/>
<circle cx="115.69" cy="273.09" r="1.75" fill="none" stroke="#f6a11b" stroke-width="1.0"/>
<circle cx="118.24" cy="272.79" r="1.75" fill="none" stroke="#f6a11b" stroke-width="1.0"/>
<circle cx="120.57" cy="272.81" r="1.75" fill="none" stroke="#f6a11b" stroke-width="1.0"/>
<circle cx="110.61" cy="271.06" r="1.75" fill="none" stroke="#f6a11b" stroke-width="1.0"/>
<circle cx="112.56" cy="271.40" r="1.75" fill="none" stroke="#f6a11b" stroke-width="1.0"/>
<circle cx="115.16" cy="271.21" r="1.75" fill="none" stroke="#f6a11b" stroke-width="1.0"/>
<circle cx="117.46" cy="271.40" r="1.75" fill="none" stroke="#f6a11b" stroke-width="1.0"/>
<circle cx="119.47" cy="271.01" r="1.75" fill="none" stroke="#f6a11b" stroke-width="1.0"/>
<circle cx="121.86" cy="271.53" r="1.75" fill="none" stroke="#f6a11b" stroke-width="1.0"/>
<circle cx="110.06" cy="269.89" r="1.75" fill="none" stroke="#f6a11b" stroke-width="1.0"/>
<circle cx="112.51" cy="269.89" r="1.75" fill="none" stroke="#f6a11b" stroke-width="1.0"/>
<circle cx="114.40" cy="269.75" r="1.75" fill="none" stroke="#f6a11b" stroke-width="1.0"/>
<circle cx="117.45" cy="269.95" r="1.75" fill="none" stroke="#f6a11b" stroke-width="1.0"/>
<circle cx="119.20" cy="269.24" r="1.75" fill="none" stroke="#f6a11b" stroke-width="1.0"/>
<circle cx="122.28" cy="269.13" r="1.75" fill="none" stroke="#f6a11b" stroke-width="1.0"/>
<circle cx="111.05" cy="268.03" r="1.75" fill="none" stroke="#f6a11b" stroke-width="1.0"/>
<circle cx="112.39" cy="267.25" r="1.75" fill="none" stroke="#f6a11b" stroke-width="1.0"/>
<circle cx="115.48" cy="267.27" r="1.75" fill="none" stroke="#f6a11b" stroke-width="1.0"/>
<circle cx="117.11" cy="267.96" r="1.75" fill="none" stroke="#f6a11b" stroke-width="1.0"/>
<circle cx="119.88" cy="267.91" r="1.75" fill="none" stroke="#f6a11b" stroke-width="1.0"/>
<circle cx="121.40" cy="267.45" r="1.75" fill="none" stroke="#f6a11b" stroke-width="1.0"/>
<circle cx="110.10" cy="265.08" r="1.75" fill="none" stroke="#f6a11b" stroke-width="1.0"/>
<circle cx="111.53" cy="265.88" r="1.75" fill="none" stroke="#f6a11b" stroke-width="1.0"/>
<circle cx="114.39" cy="266.23" r="1.75" fill="none" stroke="#f6a11b" stroke-width="1.0"/>
<circle cx="115.44" cy="265.67" r="1.75" fill="none" stroke="#f6a11b" stroke-width="1.0"/>
<circle cx="118.22" cy="265.67" r="1.75" fill="none" stroke="#f6a11b" stroke-width="1.0"/>
<circle cx="120.14" cy="265.29" r="1.75" fill="none" stroke="#f6a11b" stroke-width="1.0"/>
<circle cx="121.41" cy="265.19" r="1.75" fill="none" stroke="#f6a11b" stroke-width="1.0"/>
<circle cx="109.75" cy="263.83" r="1.75" fill="none" stroke="#f6a11b" stroke-width="1.0"/>
<circle cx="112.35" cy="263.85" r="1.75" fill="none" stroke="#f6a11b" stroke-width="1.0"/>
<circle cx="113.94" cy="263.38" r="1.75" fill="none" stroke="#f6a11b" stroke-width="1.0"/>
<circle cx="116.04" cy="264.17" r="1.75" fill="none" stroke="#f6a11b" stroke-width="1.0"/>
<circle cx="119.02" cy="264.28" r="1.75" fill="none" stroke="#f6a11b" stroke-width="1.0"/>
<circle cx="119.98" cy="263.24" r="1.75" fill="none" stroke="#f6a11b" stroke-width="1.0"/>
<circle cx="122.54" cy="263.72" r="1.75" fill="none" stroke="#f6a11b" stroke-width="1.0"/>
<circle cx="110.63" cy="261.66" r="1.75" fill="none" stroke="#f6a11b" stroke-width="1.0"/>
<circle cx="112.51" cy="261.88" r="1.75" fill="none" stroke="#f6a11b" stroke-width="1.0"/>
<circle cx="114.70" cy="261.98" r="1.75" fill="none" stroke="#f6a11b" stroke-width="1.0"/>
<circle cx="116.43" cy="262.10" r="1.75" fill="none" stroke="#f6a11b" stroke-width="1.0"/>
<circle cx="119.67" cy="261.48" r="1.75" fill="none" stroke="#f6a11b" stroke-width="1.0"/>
<circle cx="121.44" cy="262.15" r="1.75" fill="none" stroke="#f6a11b" stroke-width="1.0"/>
<circle cx="111.24" cy="259.60" r="1.75" fill="none" stroke="#f6a11b" stroke-width="1.0"/>
<circle cx="112.97" cy="259.98" r="1.75" fill="none" stroke="#f6a11b" stroke-width="1.0"/>
<circle cx="114.81" cy="260.44" r="1.75" fill="none" stroke="#f6a11b" stroke-width="1.0"/>
<circle cx="117.77" cy="260.21" r="1.75" fill="none" stroke="#f6a11b" stroke-width="1.0"/>
<circle cx="119.86" cy="260.12" r="1.75" fill="none" stroke="#f6a11b" stroke-width="1.0"/>
<circle cx="120.83" cy="260.08" r="1.75" fill="none" stroke="#f6a11b" stroke-width="1.0"/>
<circle cx="111.50" cy="258.64" r="1.75" fill="none" stroke="#f6a11b" stroke-width="1.0"/>
<circle cx="114.07" cy="257.77" r="1.75" fill="none" stroke="#f6a11b" stroke-width="1.0"/>
<circle cx="116.39" cy="258.36" r="1.75" fill="none" stroke="#f6a11b" stroke-width="1.0"/>
<circle cx="118.43" cy="258.44" r="1.75" fill="none" stroke="#f6a11b" stroke-width="1.0"/>
<circle cx="120.19" cy="258.54" r="1.75" fill="none" stroke="#f6a11b" stroke-width="1.0"/>
<circle cx="113.51" cy="256.40" r="1.75" fill="none" stroke="#f6a11b" stroke-width="1.0"/>
<circle cx="115.60" cy="256.48" r="1.75" fill="none" stroke="#f6a11b" stroke-width="1.0"/>
<circle cx="117.40" cy="256.43" r="1.75" fill="none" stroke="#f6a11b" stroke-width="1.0"/>
<circle cx="118.73" cy="255.97" r="1.75" fill="none" stroke="#f6a11b" stroke-width="1.0"/>
<circle cx="113.57" cy="253.68" r="1.75" fill="none" stroke="#f6a11b" stroke-width="1.0"/>
<circle cx="115.73" cy="254.43" r="1.75" fill="none" stroke="#f6a11b" stroke-width="1.0"/>
<circle cx="118.35" cy="253.94" r="1.75" fill="none" stroke="#f6a11b" stroke-width="1.0"/>
<circle cx="116.43" cy="252.56" r="1.75" fill="none" stroke="#f6a11b" stroke-width="1.0"/>
<circle cx="115.71" cy="251.49" r="1.75" fill="none" stroke="#f6a11b" stroke-width="1.0"/>
<circle cx="116.09" cy="249.23" r="1.75" fill="none" stroke="#f6a11b" stroke-width="1.0"/>
<circle cx="115.98" cy="246.98" r="1.75" fill="none" stroke="#f6a11b" stroke-width="1.0"/>
<circle cx="115.94" cy="244.72" r="1.75" fill="none" stroke="#f6a11b" stroke-width="1.0"/>
<circle cx="115.77" cy="242.47" r="1.75" fill="none" stroke="#f6a11b" stroke-width="1.0"/>
<circle cx="116.50" cy="240.22" r="1.75" fill="none" stroke="#f6a11b" stroke-width="1.0"/>
<circle cx="116.07" cy="237.96" r="1.75" fill="none" stroke="#f6a11b" stroke-width="1.0"/>
<circle cx="116.14" cy="180.65" r="1.75" fill="none" stroke="#f6a11b" stroke-width="1.0"/>
<circle cx="116.21" cy="214.21" r="1.75" fill="none" stroke="#f6a11b" stroke-width="1.0"/>
<circle cx="116.48" cy="224.61" r="1.75" fill="none" stroke="#f6a11b" stroke-width="1.0"/>
<circle cx="115.33" cy="231.55" r="1.75" fill="none" stroke="#f6a11b" stroke-width="1.0"/>
<circle cx="116.04" cy="234.58" r="1.75" fill="none" stroke="#f6a11b" stroke-width="1.0"/>
<circle cx="116.19" cy="279.23" r="1.75" fill="none" stroke="#f6a11b" stroke-width="1.0"/>
<circle cx="115.61" cy="277.50" r="1.75" fill="none" stroke="#f6a11b" stroke-width="1.0"/>
<line x1="56.20" y1="261.40" x2="69.20" y2="261.40" stroke="#222" stroke-width="1.10" />
<line x1="109.00" y1="261.40" x2="122.60" y2="261.40" stroke="#222" stroke-width="1.10" />
</g>
<g font-family='"Liberation Sans", sans-serif'>
<line x1="210.40" y1="169.50" x2="210.40" y2="285.80" stroke="#000" stroke-width="1.10" />
<line x1="209.90" y1="285.30" x2="325.00" y2="285.30" stroke="#000" stroke-width="1.10" />
<line x1="207.20" y1="285.30" x2="210.40" y2="285.30" stroke="#000" stroke-width="1.00" />
<text x="204.30" y="288.45" font-size="8.80" text-anchor="end" fill="#1d1b1c" font-weight="normal" stroke="#1d1b1c" stroke-width="0.12" >0</text>
<line x1="207.20" y1="257.20" x2="210.40" y2="257.20" stroke="#000" stroke-width="1.00" />
<text x="204.30" y="260.35" font-size="8.80" text-anchor="end" fill="#1d1b1c" font-weight="normal" stroke="#1d1b1c" stroke-width="0.12" >10</text>
<line x1="207.20" y1="229.10" x2="210.40" y2="229.10" stroke="#000" stroke-width="1.00" />
<text x="204.30" y="232.25" font-size="8.80" text-anchor="end" fill="#1d1b1c" font-weight="normal" stroke="#1d1b1c" stroke-width="0.12" >20</text>
<line x1="207.20" y1="201.00" x2="210.40" y2="201.00" stroke="#000" stroke-width="1.00" />
<text x="204.30" y="204.15" font-size="8.80" text-anchor="end" fill="#1d1b1c" font-weight="normal" stroke="#1d1b1c" stroke-width="0.12" >30</text>
<line x1="207.20" y1="172.90" x2="210.40" y2="172.90" stroke="#000" stroke-width="1.00" />
<text x="204.30" y="176.05" font-size="8.80" text-anchor="end" fill="#1d1b1c" font-weight="normal" stroke="#1d1b1c" stroke-width="0.12" >40</text>
<line x1="210.40" y1="285.30" x2="210.40" y2="288.30" stroke="#000" stroke-width="1.00" />
<text x="210.40" y="299.60" font-size="8.80" text-anchor="middle" fill="#1d1b1c" font-weight="normal" stroke="#1d1b1c" stroke-width="0.12" >0</text>
<line x1="248.50" y1="285.30" x2="248.50" y2="288.30" stroke="#000" stroke-width="1.00" />
<text x="248.50" y="299.60" font-size="8.80" text-anchor="middle" fill="#1d1b1c" font-weight="normal" stroke="#1d1b1c" stroke-width="0.12" >5</text>
<line x1="286.60" y1="285.30" x2="286.60" y2="288.30" stroke="#000" stroke-width="1.00" />
<text x="286.60" y="299.60" font-size="8.80" text-anchor="middle" fill="#1d1b1c" font-weight="normal" stroke="#1d1b1c" stroke-width="0.12" >10</text>
<line x1="324.70" y1="285.30" x2="324.70" y2="288.30" stroke="#000" stroke-width="1.00" />
<text x="324.70" y="299.60" font-size="8.80" text-anchor="middle" fill="#1d1b1c" font-weight="normal" stroke="#1d1b1c" stroke-width="0.12" >15</text>
<g transform="translate(188.30 271.70) rotate(-90)">
<text x="0.00" y="0" font-size="10.30" fill="#231f20" stroke="#231f20" stroke-width="0.32" textLength="31.20" lengthAdjust="spacingAndGlyphs">Granzyme</text>
<text x="33.80" y="0" font-size="10.30" fill="#231f20" stroke="#231f20" stroke-width="0.32" textLength="4.60" lengthAdjust="spacingAndGlyphs">B</text>
<text x="41.30" y="0" font-size="10.30" fill="#231f20" stroke="#231f20" stroke-width="0.32" textLength="18.50" lengthAdjust="spacingAndGlyphs">(MFI)</text>
<text x="62.10" y="0" font-size="10.30" fill="#231f20" stroke="#231f20" stroke-width="0.32" textLength="27.80" lengthAdjust="spacingAndGlyphs">CD57/nil</text>
</g>
<text x="218.60" y="178.60" font-size="8.50" text-anchor="start" fill="#1d1b1c" font-weight="normal" stroke="#1d1b1c" stroke-width="0.12" >R = 0.41</text>
<text x="229.20" y="190.00" font-size="8.00" text-anchor="start" fill="#1d1b1c" font-weight="normal" stroke="#1d1b1c" stroke-width="0.12" style="stroke-width:0.2px">****</text>
<circle cx="245.22" cy="192.85" r="1.15" fill="#c8102e"/>
<circle cx="272.12" cy="227.98" r="1.15" fill="#c8102e"/>
<circle cx="263.44" cy="268.72" r="1.15" fill="#c8102e"/>
<circle cx="293.92" cy="271.81" r="1.15" fill="#c8102e"/>
<circle cx="305.19" cy="269.99" r="1.15" fill="#c8102e"/>
<circle cx="237.80" cy="260.00" r="1.15" fill="#c8102e"/>
<circle cx="239.70" cy="263.10" r="1.15" fill="#c8102e"/>
<circle cx="233.90" cy="264.20" r="1.15" fill="#c8102e"/>
<circle cx="242.00" cy="265.40" r="1.15" fill="#c8102e"/>
<circle cx="223.20" cy="269.20" r="1.15" fill="#c8102e"/>
<circle cx="221.60" cy="271.20" r="1.15" fill="#c8102e"/>
<circle cx="232.00" cy="268.80" r="1.15" fill="#c8102e"/>
<circle cx="234.30" cy="269.20" r="1.15" fill="#c8102e"/>
<circle cx="237.00" cy="267.70" r="1.15" fill="#c8102e"/>
<circle cx="240.80" cy="268.80" r="1.15" fill="#c8102e"/>
<circle cx="243.50" cy="267.70" r="1.15" fill="#c8102e"/>
<circle cx="245.80" cy="267.30" r="1.15" fill="#c8102e"/>
<circle cx="248.90" cy="268.10" r="1.15" fill="#c8102e"/>
<circle cx="248.50" cy="273.10" r="1.15" fill="#c8102e"/>
<circle cx="247.40" cy="274.20" r="1.15" fill="#c8102e"/>
<circle cx="250.10" cy="273.80" r="1.15" fill="#c8102e"/>
<circle cx="244.30" cy="273.10" r="1.15" fill="#c8102e"/>
<circle cx="238.90" cy="275.00" r="1.15" fill="#c8102e"/>
<circle cx="240.10" cy="279.60" r="1.15" fill="#c8102e"/>
<circle cx="245.10" cy="279.20" r="1.15" fill="#c8102e"/>
<circle cx="215.50" cy="277.30" r="1.15" fill="#c8102e"/>
<circle cx="216.60" cy="280.00" r="1.15" fill="#c8102e"/>
<circle cx="236.00" cy="271.00" r="1.15" fill="#c8102e"/>
<circle cx="238.00" cy="272.50" r="1.15" fill="#c8102e"/>
<circle cx="235.00" cy="276.00" r="1.15" fill="#c8102e"/>
<circle cx="233.00" cy="279.00" r="1.15" fill="#c8102e"/>
<circle cx="236.00" cy="281.00" r="1.15" fill="#c8102e"/>
<circle cx="230.00" cy="273.00" r="1.15" fill="#c8102e"/>
<circle cx="228.00" cy="270.50" r="1.15" fill="#c8102e"/>
<circle cx="242.00" cy="271.00" r="1.15" fill="#c8102e"/>
<circle cx="223.55" cy="278.86" r="1.15" fill="#c8102e"/>
<circle cx="219.04" cy="276.10" r="1.15" fill="#c8102e"/>
<circle cx="233.32" cy="274.17" r="1.15" fill="#c8102e"/>
<circle cx="235.09" cy="279.14" r="1.15" fill="#c8102e"/>
<circle cx="223.05" cy="276.17" r="1.15" fill="#c8102e"/>
<circle cx="220.57" cy="279.61" r="1.15" fill="#c8102e"/>
<circle cx="226.97" cy="276.78" r="1.15" fill="#c8102e"/>
<circle cx="218.33" cy="282.48" r="1.15" fill="#c8102e"/>
<circle cx="224.79" cy="283.28" r="1.15" fill="#c8102e"/>
<circle cx="234.21" cy="276.79" r="1.15" fill="#c8102e"/>
<circle cx="226.47" cy="279.16" r="1.15" fill="#c8102e"/>
<circle cx="222.96" cy="282.91" r="1.15" fill="#c8102e"/>
<circle cx="219.27" cy="283.21" r="1.15" fill="#c8102e"/>
<circle cx="224.60" cy="279.94" r="1.15" fill="#c8102e"/>
<circle cx="226.06" cy="275.92" r="1.15" fill="#c8102e"/>
<circle cx="220.08" cy="280.16" r="1.15" fill="#c8102e"/>
<circle cx="224.03" cy="281.40" r="1.15" fill="#c8102e"/>
<circle cx="224.50" cy="281.38" r="1.15" fill="#c8102e"/>
<circle cx="230.37" cy="275.98" r="1.15" fill="#c8102e"/>
<circle cx="225.99" cy="275.65" r="1.15" fill="#c8102e"/>
<circle cx="227.86" cy="276.82" r="1.15" fill="#c8102e"/>
<circle cx="226.96" cy="281.54" r="1.15" fill="#c8102e"/>
<circle cx="226.40" cy="274.22" r="1.15" fill="#c8102e"/>
<circle cx="226.54" cy="278.25" r="1.15" fill="#c8102e"/>
<circle cx="223.94" cy="280.30" r="1.15" fill="#c8102e"/>
<circle cx="223.18" cy="276.42" r="1.15" fill="#c8102e"/>
<circle cx="226.96" cy="280.42" r="1.15" fill="#c8102e"/>
<circle cx="222.82" cy="275.05" r="1.15" fill="#c8102e"/>
<circle cx="220.77" cy="277.63" r="1.15" fill="#c8102e"/>
<circle cx="231.69" cy="277.22" r="1.15" fill="#c8102e"/>
<circle cx="225.01" cy="280.95" r="1.15" fill="#c8102e"/>
<circle cx="222.80" cy="280.13" r="1.15" fill="#c8102e"/>
<circle cx="219.40" cy="279.54" r="1.15" fill="#c8102e"/>
<circle cx="224.52" cy="277.89" r="1.15" fill="#c8102e"/>
<circle cx="221.02" cy="278.68" r="1.15" fill="#c8102e"/>
<circle cx="222.87" cy="281.91" r="1.15" fill="#c8102e"/>
<circle cx="220.50" cy="282.95" r="1.15" fill="#c8102e"/>
<circle cx="219.90" cy="280.10" r="1.15" fill="#c8102e"/>
<circle cx="227.54" cy="277.77" r="1.15" fill="#c8102e"/>
<circle cx="226.74" cy="279.63" r="1.15" fill="#c8102e"/>
<circle cx="226.38" cy="276.26" r="1.15" fill="#c8102e"/>
<circle cx="234.61" cy="275.16" r="1.15" fill="#c8102e"/>
<circle cx="220.63" cy="280.25" r="1.15" fill="#c8102e"/>
<circle cx="224.88" cy="279.88" r="1.15" fill="#c8102e"/>
<circle cx="228.02" cy="276.51" r="1.15" fill="#c8102e"/>
<circle cx="222.48" cy="282.21" r="1.15" fill="#c8102e"/>
<circle cx="219.24" cy="283.09" r="1.15" fill="#c8102e"/>
<circle cx="218.72" cy="279.41" r="1.15" fill="#c8102e"/>
<circle cx="227.66" cy="275.79" r="1.15" fill="#c8102e"/>
<circle cx="228.01" cy="278.74" r="1.15" fill="#c8102e"/>
<circle cx="229.26" cy="277.80" r="1.15" fill="#c8102e"/>
<circle cx="224.63" cy="278.07" r="1.15" fill="#c8102e"/>
<circle cx="222.68" cy="280.38" r="1.15" fill="#c8102e"/>
<circle cx="218.68" cy="278.08" r="1.15" fill="#c8102e"/>
<circle cx="225.95" cy="277.04" r="1.15" fill="#c8102e"/>
<circle cx="230.72" cy="276.83" r="1.15" fill="#c8102e"/>
<circle cx="226.34" cy="275.93" r="1.15" fill="#c8102e"/>
<circle cx="221.15" cy="278.67" r="1.15" fill="#c8102e"/>
<circle cx="224.47" cy="278.55" r="1.15" fill="#c8102e"/>
<circle cx="222.03" cy="282.59" r="1.15" fill="#c8102e"/>
<circle cx="220.59" cy="279.68" r="1.15" fill="#c8102e"/>
<circle cx="222.97" cy="276.29" r="1.15" fill="#c8102e"/>
<circle cx="227.59" cy="280.95" r="1.15" fill="#c8102e"/>
<circle cx="220.53" cy="281.09" r="1.15" fill="#c8102e"/>
<circle cx="228.92" cy="275.37" r="1.15" fill="#c8102e"/>
<circle cx="221.08" cy="278.87" r="1.15" fill="#c8102e"/>
<circle cx="225.29" cy="276.04" r="1.15" fill="#c8102e"/>
<circle cx="230.76" cy="274.56" r="1.15" fill="#c8102e"/>
<circle cx="223.57" cy="278.18" r="1.15" fill="#c8102e"/>
<circle cx="221.62" cy="280.20" r="1.15" fill="#c8102e"/>
<circle cx="225.19" cy="278.72" r="1.15" fill="#c8102e"/>
<circle cx="219.34" cy="282.61" r="1.15" fill="#c8102e"/>
<circle cx="225.49" cy="276.73" r="1.15" fill="#c8102e"/>
<circle cx="227.90" cy="274.18" r="1.15" fill="#c8102e"/>
<circle cx="220.64" cy="279.65" r="1.15" fill="#c8102e"/>
<circle cx="222.41" cy="283.14" r="1.15" fill="#c8102e"/>
<circle cx="233.57" cy="277.62" r="1.15" fill="#c8102e"/>
<circle cx="228.56" cy="276.89" r="1.15" fill="#c8102e"/>
<circle cx="230.76" cy="278.24" r="1.15" fill="#c8102e"/>
<circle cx="219.87" cy="281.41" r="1.15" fill="#c8102e"/>
<circle cx="224.70" cy="278.28" r="1.15" fill="#c8102e"/>
<circle cx="224.52" cy="279.73" r="1.15" fill="#c8102e"/>
<circle cx="224.72" cy="276.18" r="1.15" fill="#c8102e"/>
<circle cx="226.92" cy="275.25" r="1.15" fill="#c8102e"/>
<circle cx="220.98" cy="279.80" r="1.15" fill="#c8102e"/>
<circle cx="223.02" cy="280.46" r="1.15" fill="#c8102e"/>
<circle cx="231.35" cy="277.30" r="1.15" fill="#c8102e"/>
<circle cx="226.90" cy="278.20" r="1.15" fill="#c8102e"/>
<circle cx="222.42" cy="277.54" r="1.15" fill="#c8102e"/>
<circle cx="222.80" cy="276.42" r="1.15" fill="#c8102e"/>
<circle cx="224.28" cy="279.42" r="1.15" fill="#c8102e"/>
<circle cx="220.31" cy="281.12" r="1.15" fill="#c8102e"/>
<circle cx="219.48" cy="281.98" r="1.15" fill="#c8102e"/>
<circle cx="225.68" cy="278.64" r="1.15" fill="#c8102e"/>
<circle cx="232.05" cy="277.25" r="1.15" fill="#c8102e"/>
<line x1="215.20" y1="280.58" x2="305.19" y2="252.42" stroke="#c8102e" stroke-width="1.10" />
<line x1="369.40" y1="168.50" x2="369.40" y2="285.80" stroke="#000" stroke-width="1.10" />
<line x1="368.90" y1="285.30" x2="484.60" y2="285.30" stroke="#000" stroke-width="1.10" />
<line x1="366.40" y1="285.30" x2="369.40" y2="285.30" stroke="#000" stroke-width="1.00" />
<text x="363.40" y="288.45" font-size="8.80" text-anchor="end" fill="#1d1b1c" font-weight="normal" stroke="#1d1b1c" stroke-width="0.12" >0</text>
<line x1="366.40" y1="269.04" x2="369.40" y2="269.04" stroke="#000" stroke-width="1.00" />
<text x="363.40" y="272.19" font-size="8.80" text-anchor="end" fill="#1d1b1c" font-weight="normal" stroke="#1d1b1c" stroke-width="0.12" >1</text>
<line x1="366.40" y1="252.78" x2="369.40" y2="252.78" stroke="#000" stroke-width="1.00" />
<text x="363.40" y="255.93" font-size="8.80" text-anchor="end" fill="#1d1b1c" font-weight="normal" stroke="#1d1b1c" stroke-width="0.12" >2</text>
<line x1="366.40" y1="236.52" x2="369.40" y2="236.52" stroke="#000" stroke-width="1.00" />
<text x="363.40" y="239.67" font-size="8.80" text-anchor="end" fill="#1d1b1c" font-weight="normal" stroke="#1d1b1c" stroke-width="0.12" >3</text>
<line x1="366.40" y1="220.26" x2="369.40" y2="220.26" stroke="#000" stroke-width="1.00" />
<text x="363.40" y="223.41" font-size="8.80" text-anchor="end" fill="#1d1b1c" font-weight="normal" stroke="#1d1b1c" stroke-width="0.12" >4</text>
<line x1="366.40" y1="204.00" x2="369.40" y2="204.00" stroke="#000" stroke-width="1.00" />
<text x="363.40" y="207.15" font-size="8.80" text-anchor="end" fill="#1d1b1c" font-weight="normal" stroke="#1d1b1c" stroke-width="0.12" >5</text>
<line x1="366.40" y1="187.74" x2="369.40" y2="187.74" stroke="#000" stroke-width="1.00" />
<text x="363.40" y="190.89" font-size="8.80" text-anchor="end" fill="#1d1b1c" font-weight="normal" stroke="#1d1b1c" stroke-width="0.12" >6</text>
<line x1="366.40" y1="171.48" x2="369.40" y2="171.48" stroke="#000" stroke-width="1.00" />
<text x="363.40" y="174.63" font-size="8.80" text-anchor="end" fill="#1d1b1c" font-weight="normal" stroke="#1d1b1c" stroke-width="0.12" >7</text>
<line x1="369.40" y1="285.30" x2="369.40" y2="288.30" stroke="#000" stroke-width="1.00" />
<text x="369.40" y="299.60" font-size="8.80" text-anchor="middle" fill="#1d1b1c" font-weight="normal" stroke="#1d1b1c" stroke-width="0.12" >0</text>
<line x1="392.30" y1="285.30" x2="392.30" y2="288.30" stroke="#000" stroke-width="1.00" />
<text x="392.30" y="299.60" font-size="8.80" text-anchor="middle" fill="#1d1b1c" font-weight="normal" stroke="#1d1b1c" stroke-width="0.12" >2</text>
<line x1="415.20" y1="285.30" x2="415.20" y2="288.30" stroke="#000" stroke-width="1.00" />
<text x="415.20" y="299.60" font-size="8.80" text-anchor="middle" fill="#1d1b1c" font-weight="normal" stroke="#1d1b1c" stroke-width="0.12" >4</text>
<line x1="438.10" y1="285.30" x2="438.10" y2="288.30" stroke="#000" stroke-width="1.00" />
<text x="438.10" y="299.60" font-size="8.80" text-anchor="middle" fill="#1d1b1c" font-weight="normal" stroke="#1d1b1c" stroke-width="0.12" >6</text>
<line x1="461.00" y1="285.30" x2="461.00" y2="288.30" stroke="#000" stroke-width="1.00" />
<text x="461.00" y="299.60" font-size="8.80" text-anchor="middle" fill="#1d1b1c" font-weight="normal" stroke="#1d1b1c" stroke-width="0.12" >8</text>
<line x1="483.90" y1="285.30" x2="483.90" y2="288.30" stroke="#000" stroke-width="1.00" />
<text x="483.90" y="299.60" font-size="8.80" text-anchor="middle" fill="#1d1b1c" font-weight="normal" stroke="#1d1b1c" stroke-width="0.12" >10</text>
<g transform="translate(352.00 270.50) rotate(-90)">
<text x="0.00" y="0" font-size="10.30" fill="#231f20" stroke="#231f20" stroke-width="0.32" textLength="31.20" lengthAdjust="spacingAndGlyphs">Granzyme</text>
<text x="33.80" y="0" font-size="10.30" fill="#231f20" stroke="#231f20" stroke-width="0.32" textLength="4.60" lengthAdjust="spacingAndGlyphs">B</text>
<text x="41.30" y="0" font-size="10.30" fill="#231f20" stroke="#231f20" stroke-width="0.32" textLength="18.50" lengthAdjust="spacingAndGlyphs">(MFI)</text>
<text x="62.10" y="0" font-size="10.30" fill="#231f20" stroke="#231f20" stroke-width="0.32" textLength="29.00" lengthAdjust="spacingAndGlyphs">NKG2A/nil</text>
</g>
<text x="377.00" y="178.30" font-size="8.50" text-anchor="start" fill="#1d1b1c" font-weight="normal" stroke="#1d1b1c" stroke-width="0.12" >R = 0.68</text>
<text x="388.00" y="190.00" font-size="8.00" text-anchor="start" fill="#1d1b1c" font-weight="normal" stroke="#1d1b1c" stroke-width="0.12" style="stroke-width:0.2px">****</text>
<circle cx="449.55" cy="238.15" r="1.15" fill="#c8102e"/>
<circle cx="462.72" cy="247.90" r="1.15" fill="#c8102e"/>
<circle cx="418.80" cy="244.20" r="1.15" fill="#c8102e"/>
<circle cx="421.70" cy="243.70" r="1.15" fill="#c8102e"/>
<circle cx="414.20" cy="246.00" r="1.15" fill="#c8102e"/>
<circle cx="421.10" cy="246.50" r="1.15" fill="#c8102e"/>
<circle cx="410.20" cy="250.60" r="1.15" fill="#c8102e"/>
<circle cx="410.80" cy="251.70" r="1.15" fill="#c8102e"/>
<circle cx="415.40" cy="252.10" r="1.15" fill="#c8102e"/>
<circle cx="420.00" cy="249.80" r="1.15" fill="#c8102e"/>
<circle cx="425.70" cy="248.80" r="1.15" fill="#c8102e"/>
<circle cx="427.50" cy="248.30" r="1.15" fill="#c8102e"/>
<circle cx="422.90" cy="253.50" r="1.15" fill="#c8102e"/>
<circle cx="395.80" cy="256.30" r="1.15" fill="#c8102e"/>
<circle cx="398.10" cy="256.90" r="1.15" fill="#c8102e"/>
<circle cx="401.00" cy="255.80" r="1.15" fill="#c8102e"/>
<circle cx="403.80" cy="256.30" r="1.15" fill="#c8102e"/>
<circle cx="428.00" cy="256.90" r="1.15" fill="#c8102e"/>
<circle cx="428.60" cy="259.80" r="1.15" fill="#c8102e"/>
<circle cx="428.00" cy="261.00" r="1.15" fill="#c8102e"/>
<circle cx="416.50" cy="262.10" r="1.15" fill="#c8102e"/>
<circle cx="376.70" cy="269.40" r="1.15" fill="#c8102e"/>
<circle cx="383.10" cy="266.10" r="1.15" fill="#c8102e"/>
<circle cx="384.80" cy="277.70" r="1.15" fill="#c8102e"/>
<circle cx="386.00" cy="280.60" r="1.15" fill="#c8102e"/>
<circle cx="388.80" cy="283.40" r="1.15" fill="#c8102e"/>
<circle cx="398.60" cy="282.90" r="1.15" fill="#c8102e"/>
<circle cx="389.40" cy="275.90" r="1.15" fill="#c8102e"/>
<circle cx="394.60" cy="276.50" r="1.15" fill="#c8102e"/>
<circle cx="398.10" cy="275.40" r="1.15" fill="#c8102e"/>
<circle cx="405.00" cy="276.50" r="1.15" fill="#c8102e"/>
<circle cx="399.80" cy="273.10" r="1.15" fill="#c8102e"/>
<circle cx="413.60" cy="271.30" r="1.15" fill="#c8102e"/>
<circle cx="408.40" cy="271.30" r="1.15" fill="#c8102e"/>
<circle cx="407.30" cy="268.40" r="1.15" fill="#c8102e"/>
<circle cx="428.00" cy="269.60" r="1.15" fill="#c8102e"/>
<circle cx="413.10" cy="265.60" r="1.15" fill="#c8102e"/>
<circle cx="410.20" cy="262.70" r="1.15" fill="#c8102e"/>
<circle cx="408.40" cy="261.50" r="1.15" fill="#c8102e"/>
<circle cx="405.00" cy="260.40" r="1.15" fill="#c8102e"/>
<circle cx="403.30" cy="262.10" r="1.15" fill="#c8102e"/>
<circle cx="392.00" cy="273.00" r="1.15" fill="#c8102e"/>
<circle cx="396.00" cy="270.00" r="1.15" fill="#c8102e"/>
<circle cx="402.00" cy="266.00" r="1.15" fill="#c8102e"/>
<circle cx="405.50" cy="265.00" r="1.15" fill="#c8102e"/>
<circle cx="389.55" cy="268.46" r="1.15" fill="#c8102e"/>
<circle cx="398.93" cy="268.59" r="1.15" fill="#c8102e"/>
<circle cx="398.46" cy="264.89" r="1.15" fill="#c8102e"/>
<circle cx="394.88" cy="265.38" r="1.15" fill="#c8102e"/>
<circle cx="388.02" cy="267.21" r="1.15" fill="#c8102e"/>
<circle cx="397.47" cy="265.76" r="1.15" fill="#c8102e"/>
<circle cx="392.17" cy="264.23" r="1.15" fill="#c8102e"/>
<circle cx="393.12" cy="265.13" r="1.15" fill="#c8102e"/>
<circle cx="393.65" cy="267.70" r="1.15" fill="#c8102e"/>
<circle cx="383.98" cy="269.60" r="1.15" fill="#c8102e"/>
<circle cx="387.39" cy="266.22" r="1.15" fill="#c8102e"/>
<circle cx="388.32" cy="271.19" r="1.15" fill="#c8102e"/>
<circle cx="396.30" cy="266.81" r="1.15" fill="#c8102e"/>
<circle cx="390.40" cy="263.87" r="1.15" fill="#c8102e"/>
<circle cx="391.91" cy="267.58" r="1.15" fill="#c8102e"/>
<circle cx="393.20" cy="268.38" r="1.15" fill="#c8102e"/>
<circle cx="392.01" cy="271.67" r="1.15" fill="#c8102e"/>
<circle cx="396.23" cy="270.70" r="1.15" fill="#c8102e"/>
<circle cx="394.52" cy="265.54" r="1.15" fill="#c8102e"/>
<circle cx="389.96" cy="269.82" r="1.15" fill="#c8102e"/>
<circle cx="397.87" cy="265.37" r="1.15" fill="#c8102e"/>
<circle cx="395.20" cy="265.20" r="1.15" fill="#c8102e"/>
<circle cx="391.75" cy="266.36" r="1.15" fill="#c8102e"/>
<circle cx="385.65" cy="266.63" r="1.15" fill="#c8102e"/>
<circle cx="393.66" cy="266.77" r="1.15" fill="#c8102e"/>
<circle cx="398.03" cy="266.54" r="1.15" fill="#c8102e"/>
<circle cx="395.26" cy="266.00" r="1.15" fill="#c8102e"/>
<circle cx="384.04" cy="269.93" r="1.15" fill="#c8102e"/>
<circle cx="389.79" cy="269.06" r="1.15" fill="#c8102e"/>
<circle cx="392.30" cy="266.04" r="1.15" fill="#c8102e"/>
<circle cx="391.23" cy="266.52" r="1.15" fill="#c8102e"/>
<circle cx="385.29" cy="265.23" r="1.15" fill="#c8102e"/>
<circle cx="398.54" cy="265.84" r="1.15" fill="#c8102e"/>
<circle cx="391.63" cy="266.24" r="1.15" fill="#c8102e"/>
<circle cx="391.93" cy="275.44" r="1.15" fill="#c8102e"/>
<circle cx="395.64" cy="265.74" r="1.15" fill="#c8102e"/>
<circle cx="390.65" cy="261.36" r="1.15" fill="#c8102e"/>
<circle cx="393.98" cy="269.89" r="1.15" fill="#c8102e"/>
<circle cx="397.36" cy="265.81" r="1.15" fill="#c8102e"/>
<circle cx="390.93" cy="264.32" r="1.15" fill="#c8102e"/>
<circle cx="393.78" cy="265.31" r="1.15" fill="#c8102e"/>
<circle cx="388.69" cy="272.44" r="1.15" fill="#c8102e"/>
<circle cx="389.53" cy="266.45" r="1.15" fill="#c8102e"/>
<circle cx="383.47" cy="274.39" r="1.15" fill="#c8102e"/>
<circle cx="392.78" cy="266.53" r="1.15" fill="#c8102e"/>
<circle cx="394.64" cy="263.89" r="1.15" fill="#c8102e"/>
<circle cx="390.84" cy="268.16" r="1.15" fill="#c8102e"/>
<circle cx="390.01" cy="268.52" r="1.15" fill="#c8102e"/>
<circle cx="398.52" cy="266.68" r="1.15" fill="#c8102e"/>
<circle cx="399.37" cy="267.19" r="1.15" fill="#c8102e"/>
<circle cx="400.72" cy="264.69" r="1.15" fill="#c8102e"/>
<circle cx="395.24" cy="263.04" r="1.15" fill="#c8102e"/>
<circle cx="392.70" cy="264.88" r="1.15" fill="#c8102e"/>
<circle cx="393.16" cy="263.89" r="1.15" fill="#c8102e"/>
<circle cx="394.79" cy="272.71" r="1.15" fill="#c8102e"/>
<circle cx="390.20" cy="269.12" r="1.15" fill="#c8102e"/>
<circle cx="396.07" cy="263.68" r="1.15" fill="#c8102e"/>
<circle cx="392.23" cy="265.56" r="1.15" fill="#c8102e"/>
<circle cx="395.30" cy="264.19" r="1.15" fill="#c8102e"/>
<circle cx="404.35" cy="264.91" r="1.15" fill="#c8102e"/>
<circle cx="398.24" cy="270.41" r="1.15" fill="#c8102e"/>
<circle cx="399.22" cy="264.19" r="1.15" fill="#c8102e"/>
<circle cx="394.98" cy="266.05" r="1.15" fill="#c8102e"/>
<circle cx="394.57" cy="268.62" r="1.15" fill="#c8102e"/>
<circle cx="385.14" cy="265.06" r="1.15" fill="#c8102e"/>
<circle cx="392.09" cy="268.13" r="1.15" fill="#c8102e"/>
<circle cx="391.39" cy="266.70" r="1.15" fill="#c8102e"/>
<circle cx="398.08" cy="266.61" r="1.15" fill="#c8102e"/>
<circle cx="392.98" cy="265.78" r="1.15" fill="#c8102e"/>
<circle cx="387.25" cy="269.91" r="1.15" fill="#c8102e"/>
<line x1="377.07" y1="275.22" x2="462.95" y2="239.45" stroke="#c8102e" stroke-width="1.10" />
<g transform="translate(198.80 314.20)">
<text x="0.00" y="0" font-size="10.30" fill="#231f20" stroke="#231f20" stroke-width="0.32" textLength="31.20" lengthAdjust="spacingAndGlyphs">Granzyme</text>
<text x="33.80" y="0" font-size="10.30" fill="#231f20" stroke="#231f20" stroke-width="0.32" textLength="4.60" lengthAdjust="spacingAndGlyphs">B</text>
<text x="41.30" y="0" font-size="10.30" fill="#231f20" stroke="#231f20" stroke-width="0.32" textLength="18.50" lengthAdjust="spacingAndGlyphs">(MFI)</text>
<text x="62.10" y="0" font-size="10.30" fill="#231f20" stroke="#231f20" stroke-width="0.32" textLength="23.40" lengthAdjust="spacingAndGlyphs">bulk/nil</text>
</g>
<line x1="292.00" y1="310.40" x2="397.00" y2="310.40" stroke="#000" stroke-width="1.20" />
<path d="M403.6 310.4 L392.6 306.2 L396.2 310.4 L392.6 315.2 Z" fill="#000"/>
</g>
<g font-family='"Liberation Sans", sans-serif'>
<line x1="51.40" y1="365.20" x2="51.40" y2="504.00" stroke="#000" stroke-width="1.10" />
<line x1="50.90" y1="503.50" x2="187.90" y2="503.50" stroke="#000" stroke-width="1.10" />
<line x1="48.40" y1="503.50" x2="51.40" y2="503.50" stroke="#000" stroke-width="1.00" />
<text x="45.40" y="506.65" font-size="8.80" text-anchor="end" fill="#1d1b1c" font-weight="normal" stroke="#1d1b1c" stroke-width="0.12" >0</text>
<line x1="48.40" y1="484.23" x2="51.40" y2="484.23" stroke="#000" stroke-width="1.00" />
<text x="45.40" y="487.38" font-size="8.80" text-anchor="end" fill="#1d1b1c" font-weight="normal" stroke="#1d1b1c" stroke-width="0.12" >1</text>
<line x1="48.40" y1="464.96" x2="51.40" y2="464.96" stroke="#000" stroke-width="1.00" />
<text x="45.40" y="468.11" font-size="8.80" text-anchor="end" fill="#1d1b1c" font-weight="normal" stroke="#1d1b1c" stroke-width="0.12" >2</text>
<line x1="48.40" y1="445.69" x2="51.40" y2="445.69" stroke="#000" stroke-width="1.00" />
<text x="45.40" y="448.84" font-size="8.80" text-anchor="end" fill="#1d1b1c" font-weight="normal" stroke="#1d1b1c" stroke-width="0.12" >3</text>
<line x1="48.40" y1="426.42" x2="51.40" y2="426.42" stroke="#000" stroke-width="1.00" />
<text x="45.40" y="429.57" font-size="8.80" text-anchor="end" fill="#1d1b1c" font-weight="normal" stroke="#1d1b1c" stroke-width="0.12" >4</text>
<line x1="48.40" y1="407.15" x2="51.40" y2="407.15" stroke="#000" stroke-width="1.00" />
<text x="45.40" y="410.30" font-size="8.80" text-anchor="end" fill="#1d1b1c" font-weight="normal" stroke="#1d1b1c" stroke-width="0.12" >5</text>
<line x1="48.40" y1="387.88" x2="51.40" y2="387.88" stroke="#000" stroke-width="1.00" />
<text x="45.40" y="391.03" font-size="8.80" text-anchor="end" fill="#1d1b1c" font-weight="normal" stroke="#1d1b1c" stroke-width="0.12" >6</text>
<line x1="48.40" y1="368.61" x2="51.40" y2="368.61" stroke="#000" stroke-width="1.00" />
<text x="45.40" y="371.76" font-size="8.80" text-anchor="end" fill="#1d1b1c" font-weight="normal" stroke="#1d1b1c" stroke-width="0.12" >7</text>
<line x1="51.40" y1="503.50" x2="51.40" y2="506.50" stroke="#000" stroke-width="1.00" />
<text x="51.40" y="518.20" font-size="8.80" text-anchor="middle" fill="#1d1b1c" font-weight="normal" stroke="#1d1b1c" stroke-width="0.12" >0</text>
<line x1="68.15" y1="503.50" x2="68.15" y2="506.50" stroke="#000" stroke-width="1.00" />
<text x="68.15" y="518.20" font-size="8.80" text-anchor="middle" fill="#1d1b1c" font-weight="normal" stroke="#1d1b1c" stroke-width="0.12" >1</text>
<line x1="84.90" y1="503.50" x2="84.90" y2="506.50" stroke="#000" stroke-width="1.00" />
<text x="84.90" y="518.20" font-size="8.80" text-anchor="middle" fill="#1d1b1c" font-weight="normal" stroke="#1d1b1c" stroke-width="0.12" >2</text>
<line x1="101.65" y1="503.50" x2="101.65" y2="506.50" stroke="#000" stroke-width="1.00" />
<text x="101.65" y="518.20" font-size="8.80" text-anchor="middle" fill="#1d1b1c" font-weight="normal" stroke="#1d1b1c" stroke-width="0.12" >3</text>
<line x1="118.40" y1="503.50" x2="118.40" y2="506.50" stroke="#000" stroke-width="1.00" />
<text x="118.40" y="518.20" font-size="8.80" text-anchor="middle" fill="#1d1b1c" font-weight="normal" stroke="#1d1b1c" stroke-width="0.12" >4</text>
<line x1="135.15" y1="503.50" x2="135.15" y2="506.50" stroke="#000" stroke-width="1.00" />
<text x="135.15" y="518.20" font-size="8.80" text-anchor="middle" fill="#1d1b1c" font-weight="normal" stroke="#1d1b1c" stroke-width="0.12" >5</text>
<line x1="151.90" y1="503.50" x2="151.90" y2="506.50" stroke="#000" stroke-width="1.00" />
<text x="151.90" y="518.20" font-size="8.80" text-anchor="middle" fill="#1d1b1c" font-weight="normal" stroke="#1d1b1c" stroke-width="0.12" >6</text>
<line x1="168.65" y1="503.50" x2="168.65" y2="506.50" stroke="#000" stroke-width="1.00" />
<text x="168.65" y="518.20" font-size="8.80" text-anchor="middle" fill="#1d1b1c" font-weight="normal" stroke="#1d1b1c" stroke-width="0.12" >7</text>
<line x1="185.40" y1="503.50" x2="185.40" y2="506.50" stroke="#000" stroke-width="1.00" />
<text x="185.40" y="518.20" font-size="8.80" text-anchor="middle" fill="#1d1b1c" font-weight="normal" stroke="#1d1b1c" stroke-width="0.12" >8</text>
<text x="81.60" y="359.7" font-size="10.3" fill="#1d1b1c" textLength="77.30" lengthAdjust="spacingAndGlyphs" stroke="#1d1b1c" stroke-width="0.12">C1C1 population</text>
<g transform="translate(34.80 475.80) rotate(-90)">
<text x="0.00" y="0" font-size="10.30" fill="#231f20" stroke="#231f20" stroke-width="0.32" textLength="31.20" lengthAdjust="spacingAndGlyphs">Granzyme</text>
<text x="33.80" y="0" font-size="10.30" fill="#231f20" stroke="#231f20" stroke-width="0.32" textLength="4.60" lengthAdjust="spacingAndGlyphs">B</text>
<text x="41.30" y="0" font-size="10.30" fill="#231f20" stroke="#231f20" stroke-width="0.32" textLength="18.50" lengthAdjust="spacingAndGlyphs">(MFI)</text>
<text x="62.10" y="0" font-size="10.30" fill="#231f20" stroke="#231f20" stroke-width="0.32" textLength="21.70" lengthAdjust="spacingAndGlyphs">KIR/nil</text>
</g>
<text x="64.50" y="398.60" font-size="8.60" text-anchor="start" fill="#a8304f" font-weight="normal" stroke="#a8304f" stroke-width="0.12" >R = 0.78</text>
<text x="75.00" y="407.80" font-size="8.00" text-anchor="start" fill="#a8304f" font-weight="normal" stroke="#a8304f" stroke-width="0.12" style="stroke-width:0.2px">****</text>
<text x="147.50" y="398.60" font-size="8.60" text-anchor="start" fill="#eaa43c" font-weight="normal" stroke="#eaa43c" stroke-width="0.12" >R = 0.57</text>
<text x="157.50" y="407.80" font-size="8.00" text-anchor="start" fill="#eaa43c" font-weight="normal" stroke="#eaa43c" stroke-width="0.12" style="stroke-width:0.2px">****</text>
<circle cx="107.70" cy="430.00" r="1.30" fill="#a6133d"/>
<circle cx="121.20" cy="432.30" r="1.30" fill="#a6133d"/>
<circle cx="132.80" cy="431.50" r="1.30" fill="#a6133d"/>
<circle cx="134.60" cy="433.00" r="1.30" fill="#a6133d"/>
<circle cx="137.70" cy="436.20" r="1.30" fill="#a6133d"/>
<circle cx="127.20" cy="438.20" r="1.30" fill="#a6133d"/>
<circle cx="111.50" cy="443.80" r="1.30" fill="#a6133d"/>
<circle cx="118.90" cy="444.60" r="1.30" fill="#a6133d"/>
<circle cx="138.50" cy="443.00" r="1.30" fill="#a6133d"/>
<circle cx="126.60" cy="442.30" r="1.30" fill="#a6133d"/>
<circle cx="103.10" cy="448.90" r="1.30" fill="#a6133d"/>
<circle cx="103.10" cy="452.60" r="1.30" fill="#a6133d"/>
<circle cx="111.20" cy="452.60" r="1.30" fill="#a6133d"/>
<circle cx="111.20" cy="456.60" r="1.30" fill="#a6133d"/>
<circle cx="92.30" cy="456.20" r="1.30" fill="#a6133d"/>
<circle cx="87.20" cy="457.20" r="1.30" fill="#a6133d"/>
<circle cx="97.40" cy="457.70" r="1.30" fill="#a6133d"/>
<circle cx="87.70" cy="461.20" r="1.30" fill="#a6133d"/>
<circle cx="93.10" cy="461.80" r="1.30" fill="#a6133d"/>
<circle cx="99.20" cy="464.60" r="1.30" fill="#a6133d"/>
<circle cx="86.90" cy="465.40" r="1.30" fill="#a6133d"/>
<circle cx="89.20" cy="466.20" r="1.30" fill="#a6133d"/>
<circle cx="80.00" cy="467.40" r="1.30" fill="#a6133d"/>
<circle cx="82.30" cy="467.70" r="1.30" fill="#a6133d"/>
<circle cx="85.40" cy="468.50" r="1.30" fill="#a6133d"/>
<circle cx="90.00" cy="468.50" r="1.30" fill="#a6133d"/>
<circle cx="77.70" cy="470.00" r="1.30" fill="#a6133d"/>
<circle cx="86.90" cy="470.80" r="1.30" fill="#a6133d"/>
<circle cx="96.20" cy="470.50" r="1.30" fill="#a6133d"/>
<circle cx="109.20" cy="471.50" r="1.30" fill="#a6133d"/>
<circle cx="76.90" cy="473.00" r="1.30" fill="#a6133d"/>
<circle cx="79.20" cy="476.20" r="1.30" fill="#a6133d"/>
<circle cx="77.70" cy="478.20" r="1.30" fill="#a6133d"/>
<circle cx="106.90" cy="476.20" r="1.30" fill="#a6133d"/>
<circle cx="128.50" cy="469.20" r="1.30" fill="#a6133d"/>
<circle cx="84.00" cy="463.00" r="1.30" fill="#a6133d"/>
<circle cx="90.00" cy="472.00" r="1.30" fill="#a6133d"/>
<path d="M127.20 454.77 L125.90 457.18 L128.50 457.18 Z" fill="#e9a025"/>
<path d="M132.80 454.77 L131.50 457.18 L134.10 457.18 Z" fill="#e9a025"/>
<path d="M128.90 459.77 L127.60 462.18 L130.20 462.18 Z" fill="#e9a025"/>
<path d="M121.50 464.77 L120.20 467.18 L122.80 467.18 Z" fill="#e9a025"/>
<path d="M136.20 468.57 L134.90 470.98 L137.50 470.98 Z" fill="#e9a025"/>
<path d="M137.70 469.37 L136.40 471.78 L139.00 471.78 Z" fill="#e9a025"/>
<path d="M97.70 473.17 L96.40 475.58 L99.00 475.58 Z" fill="#e9a025"/>
<path d="M103.10 473.17 L101.80 475.58 L104.40 475.58 Z" fill="#e9a025"/>
<path d="M119.20 473.97 L117.90 476.38 L120.50 476.38 Z" fill="#e9a025"/>
<path d="M125.70 475.47 L124.40 477.88 L127.00 477.88 Z" fill="#e9a025"/>
<path d="M106.90 478.57 L105.60 480.98 L108.20 480.98 Z" fill="#e9a025"/>
<path d="M110.80 479.77 L109.50 482.18 L112.10 482.18 Z" fill="#e9a025"/>
<path d="M111.50 480.87 L110.20 483.28 L112.80 483.28 Z" fill="#e9a025"/>
<path d="M77.70 482.77 L76.40 485.18 L79.00 485.18 Z" fill="#e9a025"/>
<path d="M80.00 481.07 L78.70 483.48 L81.30 483.48 Z" fill="#e9a025"/>
<path d="M82.00 483.37 L80.70 485.78 L83.30 485.78 Z" fill="#e9a025"/>
<path d="M84.50 480.57 L83.20 482.98 L85.80 482.98 Z" fill="#e9a025"/>
<path d="M86.50 479.07 L85.20 481.48 L87.80 481.48 Z" fill="#e9a025"/>
<path d="M88.00 482.07 L86.70 484.48 L89.30 484.48 Z" fill="#e9a025"/>
<path d="M90.50 482.57 L89.20 484.98 L91.80 484.98 Z" fill="#e9a025"/>
<path d="M92.00 480.07 L90.70 482.48 L93.30 482.48 Z" fill="#e9a025"/>
<path d="M94.00 478.07 L92.70 480.48 L95.30 480.48 Z" fill="#e9a025"/>
<path d="M93.10 483.17 L91.80 485.58 L94.40 485.58 Z" fill="#e9a025"/>
<path d="M104.60 483.17 L103.30 485.58 L105.90 485.58 Z" fill="#e9a025"/>
<path d="M126.90 483.97 L125.60 486.38 L128.20 486.38 Z" fill="#e9a025"/>
<path d="M138.50 477.77 L137.20 480.18 L139.80 480.18 Z" fill="#e9a025"/>
<path d="M77.70 484.77 L76.40 487.18 L79.00 487.18 Z" fill="#e9a025"/>
<path d="M100.00 476.57 L98.70 478.98 L101.30 478.98 Z" fill="#e9a025"/>
<path d="M96.00 476.07 L94.70 478.48 L97.30 478.48 Z" fill="#e9a025"/>
<line x1="77.70" y1="471.50" x2="137.70" y2="436.20" stroke="#a6133d" stroke-width="1.20" />
<line x1="77.70" y1="483.00" x2="137.70" y2="467.70" stroke="#e9a025" stroke-width="1.20" />
<line x1="154.00" y1="449.50" x2="163.60" y2="449.50" stroke="#a6133d" stroke-width="1.00" />
<circle cx="158.80" cy="449.50" r="1.05" fill="#a6133d"/>
<text x="167.70" y="452.40" font-size="8.00" text-anchor="start" fill="#1d1b1c" font-weight="normal" stroke="#1d1b1c" stroke-width="0.12" >2DL3</text>
<line x1="154.00" y1="461.90" x2="163.60" y2="461.90" stroke="#e9a025" stroke-width="1.00" />
<path d="M158.80 460.58 L157.60 462.80 L160.00 462.80 Z" fill="#e9a025"/>
<text x="167.70" y="464.80" font-size="8.00" text-anchor="start" fill="#1d1b1c" font-weight="normal" stroke="#1d1b1c" stroke-width="0.12" >2DL1</text>
<line x1="210.80" y1="365.20" x2="210.80" y2="504.00" stroke="#000" stroke-width="1.10" />
<line x1="210.30" y1="503.50" x2="347.30" y2="503.50" stroke="#000" stroke-width="1.10" />
<line x1="207.80" y1="503.50" x2="210.80" y2="503.50" stroke="#000" stroke-width="1.00" />
<text x="204.80" y="506.65" font-size="8.80" text-anchor="end" fill="#1d1b1c" font-weight="normal" stroke="#1d1b1c" stroke-width="0.12" >0</text>
<line x1="207.80" y1="484.23" x2="210.80" y2="484.23" stroke="#000" stroke-width="1.00" />
<text x="204.80" y="487.38" font-size="8.80" text-anchor="end" fill="#1d1b1c" font-weight="normal" stroke="#1d1b1c" stroke-width="0.12" >1</text>
<line x1="207.80" y1="464.96" x2="210.80" y2="464.96" stroke="#000" stroke-width="1.00" />
<text x="204.80" y="468.11" font-size="8.80" text-anchor="end" fill="#1d1b1c" font-weight="normal" stroke="#1d1b1c" stroke-width="0.12" >2</text>
<line x1="207.80" y1="445.69" x2="210.80" y2="445.69" stroke="#000" stroke-width="1.00" />
<text x="204.80" y="448.84" font-size="8.80" text-anchor="end" fill="#1d1b1c" font-weight="normal" stroke="#1d1b1c" stroke-width="0.12" >3</text>
<line x1="207.80" y1="426.42" x2="210.80" y2="426.42" stroke="#000" stroke-width="1.00" />
<text x="204.80" y="429.57" font-size="8.80" text-anchor="end" fill="#1d1b1c" font-weight="normal" stroke="#1d1b1c" stroke-width="0.12" >4</text>
<line x1="207.80" y1="407.15" x2="210.80" y2="407.15" stroke="#000" stroke-width="1.00" />
<text x="204.80" y="410.30" font-size="8.80" text-anchor="end" fill="#1d1b1c" font-weight="normal" stroke="#1d1b1c" stroke-width="0.12" >5</text>
<line x1="207.80" y1="387.88" x2="210.80" y2="387.88" stroke="#000" stroke-width="1.00" />
<text x="204.80" y="391.03" font-size="8.80" text-anchor="end" fill="#1d1b1c" font-weight="normal" stroke="#1d1b1c" stroke-width="0.12" >6</text>
<line x1="207.80" y1="368.61" x2="210.80" y2="368.61" stroke="#000" stroke-width="1.00" />
<text x="204.80" y="371.76" font-size="8.80" text-anchor="end" fill="#1d1b1c" font-weight="normal" stroke="#1d1b1c" stroke-width="0.12" >7</text>
<line x1="210.80" y1="503.50" x2="210.80" y2="506.50" stroke="#000" stroke-width="1.00" />
<text x="210.80" y="518.20" font-size="8.80" text-anchor="middle" fill="#1d1b1c" font-weight="normal" stroke="#1d1b1c" stroke-width="0.12" >0</text>
<line x1="227.55" y1="503.50" x2="227.55" y2="506.50" stroke="#000" stroke-width="1.00" />
<text x="227.55" y="518.20" font-size="8.80" text-anchor="middle" fill="#1d1b1c" font-weight="normal" stroke="#1d1b1c" stroke-width="0.12" >1</text>
<line x1="244.30" y1="503.50" x2="244.30" y2="506.50" stroke="#000" stroke-width="1.00" />
<text x="244.30" y="518.20" font-size="8.80" text-anchor="middle" fill="#1d1b1c" font-weight="normal" stroke="#1d1b1c" stroke-width="0.12" >2</text>
<line x1="261.05" y1="503.50" x2="261.05" y2="506.50" stroke="#000" stroke-width="1.00" />
<text x="261.05" y="518.20" font-size="8.80" text-anchor="middle" fill="#1d1b1c" font-weight="normal" stroke="#1d1b1c" stroke-width="0.12" >3</text>
<line x1="277.80" y1="503.50" x2="277.80" y2="506.50" stroke="#000" stroke-width="1.00" />
<text x="277.80" y="518.20" font-size="8.80" text-anchor="middle" fill="#1d1b1c" font-weight="normal" stroke="#1d1b1c" stroke-width="0.12" >4</text>
<line x1="294.55" y1="503.50" x2="294.55" y2="506.50" stroke="#000" stroke-width="1.00" />
<text x="294.55" y="518.20" font-size="8.80" text-anchor="middle" fill="#1d1b1c" font-weight="normal" stroke="#1d1b1c" stroke-width="0.12" >5</text>
<line x1="311.30" y1="503.50" x2="311.30" y2="506.50" stroke="#000" stroke-width="1.00" />
<text x="311.30" y="518.20" font-size="8.80" text-anchor="middle" fill="#1d1b1c" font-weight="normal" stroke="#1d1b1c" stroke-width="0.12" >6</text>
<line x1="328.05" y1="503.50" x2="328.05" y2="506.50" stroke="#000" stroke-width="1.00" />
<text x="328.05" y="518.20" font-size="8.80" text-anchor="middle" fill="#1d1b1c" font-weight="normal" stroke="#1d1b1c" stroke-width="0.12" >7</text>
<line x1="344.80" y1="503.50" x2="344.80" y2="506.50" stroke="#000" stroke-width="1.00" />
<text x="344.80" y="518.20" font-size="8.80" text-anchor="middle" fill="#1d1b1c" font-weight="normal" stroke="#1d1b1c" stroke-width="0.12" >8</text>
<text x="241.00" y="359.7" font-size="10.3" fill="#1d1b1c" textLength="76.70" lengthAdjust="spacingAndGlyphs" stroke="#1d1b1c" stroke-width="0.12">C2C2 population</text>
<text x="223.60" y="398.40" font-size="8.60" text-anchor="start" fill="#a8304f" font-weight="normal" stroke="#a8304f" stroke-width="0.12" >R = 0.89</text>
<text x="234.40" y="407.80" font-size="8.00" text-anchor="start" fill="#a8304f" font-weight="normal" stroke="#a8304f" stroke-width="0.12" style="stroke-width:0.2px">****</text>
<text x="292.00" y="398.60" font-size="8.60" text-anchor="start" fill="#eaa43c" font-weight="normal" stroke="#eaa43c" stroke-width="0.12" >R = 0.36</text>
<text x="292.00" y="408.60" font-size="8.40" text-anchor="start" fill="#eaa43c" font-weight="normal" stroke="#eaa43c" stroke-width="0.12" >ns</text>
<circle cx="290.30" cy="431.10" r="1.30" fill="#a6133d"/>
<circle cx="283.80" cy="436.20" r="1.30" fill="#a6133d"/>
<circle cx="266.20" cy="441.20" r="1.30" fill="#a6133d"/>
<circle cx="256.20" cy="448.80" r="1.30" fill="#a6133d"/>
<circle cx="265.70" cy="452.60" r="1.30" fill="#a6133d"/>
<circle cx="248.00" cy="453.10" r="1.30" fill="#a6133d"/>
<circle cx="251.50" cy="456.20" r="1.30" fill="#a6133d"/>
<circle cx="243.40" cy="459.70" r="1.30" fill="#a6133d"/>
<circle cx="255.70" cy="463.80" r="1.30" fill="#a6133d"/>
<circle cx="238.80" cy="464.30" r="1.30" fill="#a6133d"/>
<circle cx="242.80" cy="463.80" r="1.30" fill="#a6133d"/>
<circle cx="253.10" cy="465.80" r="1.30" fill="#a6133d"/>
<circle cx="230.50" cy="469.20" r="1.30" fill="#a6133d"/>
<circle cx="237.70" cy="468.50" r="1.30" fill="#a6133d"/>
<circle cx="241.50" cy="468.90" r="1.30" fill="#a6133d"/>
<circle cx="243.80" cy="468.00" r="1.30" fill="#a6133d"/>
<circle cx="244.30" cy="470.00" r="1.30" fill="#a6133d"/>
<circle cx="234.60" cy="472.30" r="1.30" fill="#a6133d"/>
<circle cx="239.20" cy="473.50" r="1.30" fill="#a6133d"/>
<circle cx="241.50" cy="474.20" r="1.30" fill="#a6133d"/>
<circle cx="244.60" cy="473.90" r="1.30" fill="#a6133d"/>
<path d="M248.20 465.17 L246.90 467.58 L249.50 467.58 Z" fill="#e9a025"/>
<path d="M248.00 468.57 L246.70 470.98 L249.30 470.98 Z" fill="#e9a025"/>
<path d="M265.70 468.07 L264.40 470.48 L267.00 470.48 Z" fill="#e9a025"/>
<path d="M283.80 467.47 L282.50 469.88 L285.10 469.88 Z" fill="#e9a025"/>
<path d="M256.20 472.77 L254.90 475.18 L257.50 475.18 Z" fill="#e9a025"/>
<path d="M251.50 472.47 L250.20 474.88 L252.80 474.88 Z" fill="#e9a025"/>
<path d="M244.60 473.97 L243.30 476.38 L245.90 476.38 Z" fill="#e9a025"/>
<path d="M243.00 476.57 L241.70 478.98 L244.30 478.98 Z" fill="#e9a025"/>
<path d="M265.70 476.27 L264.40 478.68 L267.00 478.68 Z" fill="#e9a025"/>
<path d="M230.80 477.77 L229.50 480.18 L232.10 480.18 Z" fill="#e9a025"/>
<path d="M235.10 480.07 L233.80 482.48 L236.40 482.48 Z" fill="#e9a025"/>
<path d="M238.50 480.87 L237.20 483.28 L239.80 483.28 Z" fill="#e9a025"/>
<path d="M239.20 481.57 L237.90 483.98 L240.50 483.98 Z" fill="#e9a025"/>
<path d="M243.80 479.37 L242.50 481.78 L245.10 481.78 Z" fill="#e9a025"/>
<path d="M247.70 479.37 L246.40 481.78 L249.00 481.78 Z" fill="#e9a025"/>
<path d="M253.10 478.57 L251.80 480.98 L254.40 480.98 Z" fill="#e9a025"/>
<path d="M290.30 478.57 L289.00 480.98 L291.60 480.98 Z" fill="#e9a025"/>
<path d="M242.00 474.57 L240.70 476.98 L243.30 476.98 Z" fill="#e9a025"/>
<path d="M246.00 475.57 L244.70 477.98 L247.30 477.98 Z" fill="#e9a025"/>
<line x1="230.00" y1="475.10" x2="290.80" y2="431.10" stroke="#a6133d" stroke-width="1.20" />
<line x1="230.00" y1="479.20" x2="290.80" y2="471.50" stroke="#e9a025" stroke-width="1.20" />
<line x1="310.10" y1="448.50" x2="319.70" y2="448.50" stroke="#a6133d" stroke-width="1.00" />
<circle cx="314.90" cy="448.50" r="1.05" fill="#a6133d"/>
<text x="323.80" y="451.40" font-size="8.00" text-anchor="start" fill="#1d1b1c" font-weight="normal" stroke="#1d1b1c" stroke-width="0.12" >2DL1</text>
<line x1="310.10" y1="460.90" x2="319.70" y2="460.90" stroke="#e9a025" stroke-width="1.00" />
<path d="M314.90 459.58 L313.70 461.80 L316.10 461.80 Z" fill="#e9a025"/>
<text x="323.80" y="463.80" font-size="8.00" text-anchor="start" fill="#1d1b1c" font-weight="normal" stroke="#1d1b1c" stroke-width="0.12" >2DL3</text>
<line x1="369.80" y1="365.20" x2="369.80" y2="504.00" stroke="#000" stroke-width="1.10" />
<line x1="369.30" y1="503.50" x2="506.30" y2="503.50" stroke="#000" stroke-width="1.10" />
<line x1="366.80" y1="503.50" x2="369.80" y2="503.50" stroke="#000" stroke-width="1.00" />
<text x="363.80" y="506.65" font-size="8.80" text-anchor="end" fill="#1d1b1c" font-weight="normal" stroke="#1d1b1c" stroke-width="0.12" >0</text>
<line x1="366.80" y1="484.23" x2="369.80" y2="484.23" stroke="#000" stroke-width="1.00" />
<text x="363.80" y="487.38" font-size="8.80" text-anchor="end" fill="#1d1b1c" font-weight="normal" stroke="#1d1b1c" stroke-width="0.12" >1</text>
<line x1="366.80" y1="464.96" x2="369.80" y2="464.96" stroke="#000" stroke-width="1.00" />
<text x="363.80" y="468.11" font-size="8.80" text-anchor="end" fill="#1d1b1c" font-weight="normal" stroke="#1d1b1c" stroke-width="0.12" >2</text>
<line x1="366.80" y1="445.69" x2="369.80" y2="445.69" stroke="#000" stroke-width="1.00" />
<text x="363.80" y="448.84" font-size="8.80" text-anchor="end" fill="#1d1b1c" font-weight="normal" stroke="#1d1b1c" stroke-width="0.12" >3</text>
<line x1="366.80" y1="426.42" x2="369.80" y2="426.42" stroke="#000" stroke-width="1.00" />
<text x="363.80" y="429.57" font-size="8.80" text-anchor="end" fill="#1d1b1c" font-weight="normal" stroke="#1d1b1c" stroke-width="0.12" >4</text>
<line x1="366.80" y1="407.15" x2="369.80" y2="407.15" stroke="#000" stroke-width="1.00" />
<text x="363.80" y="410.30" font-size="8.80" text-anchor="end" fill="#1d1b1c" font-weight="normal" stroke="#1d1b1c" stroke-width="0.12" >5</text>
<line x1="366.80" y1="387.88" x2="369.80" y2="387.88" stroke="#000" stroke-width="1.00" />
<text x="363.80" y="391.03" font-size="8.80" text-anchor="end" fill="#1d1b1c" font-weight="normal" stroke="#1d1b1c" stroke-width="0.12" >6</text>
<line x1="366.80" y1="368.61" x2="369.80" y2="368.61" stroke="#000" stroke-width="1.00" />
<text x="363.80" y="371.76" font-size="8.80" text-anchor="end" fill="#1d1b1c" font-weight="normal" stroke="#1d1b1c" stroke-width="0.12" >7</text>
<line x1="369.80" y1="503.50" x2="369.80" y2="506.50" stroke="#000" stroke-width="1.00" />
<text x="369.80" y="518.20" font-size="8.80" text-anchor="middle" fill="#1d1b1c" font-weight="normal" stroke="#1d1b1c" stroke-width="0.12" >0</text>
<line x1="386.55" y1="503.50" x2="386.55" y2="506.50" stroke="#000" stroke-width="1.00" />
<text x="386.55" y="518.20" font-size="8.80" text-anchor="middle" fill="#1d1b1c" font-weight="normal" stroke="#1d1b1c" stroke-width="0.12" >1</text>
<line x1="403.30" y1="503.50" x2="403.30" y2="506.50" stroke="#000" stroke-width="1.00" />
<text x="403.30" y="518.20" font-size="8.80" text-anchor="middle" fill="#1d1b1c" font-weight="normal" stroke="#1d1b1c" stroke-width="0.12" >2</text>
<line x1="420.05" y1="503.50" x2="420.05" y2="506.50" stroke="#000" stroke-width="1.00" />
<text x="420.05" y="518.20" font-size="8.80" text-anchor="middle" fill="#1d1b1c" font-weight="normal" stroke="#1d1b1c" stroke-width="0.12" >3</text>
<line x1="436.80" y1="503.50" x2="436.80" y2="506.50" stroke="#000" stroke-width="1.00" />
<text x="436.80" y="518.20" font-size="8.80" text-anchor="middle" fill="#1d1b1c" font-weight="normal" stroke="#1d1b1c" stroke-width="0.12" >4</text>
<line x1="453.55" y1="503.50" x2="453.55" y2="506.50" stroke="#000" stroke-width="1.00" />
<text x="453.55" y="518.20" font-size="8.80" text-anchor="middle" fill="#1d1b1c" font-weight="normal" stroke="#1d1b1c" stroke-width="0.12" >5</text>
<line x1="470.30" y1="503.50" x2="470.30" y2="506.50" stroke="#000" stroke-width="1.00" />
<text x="470.30" y="518.20" font-size="8.80" text-anchor="middle" fill="#1d1b1c" font-weight="normal" stroke="#1d1b1c" stroke-width="0.12" >6</text>
<line x1="487.05" y1="503.50" x2="487.05" y2="506.50" stroke="#000" stroke-width="1.00" />
<text x="487.05" y="518.20" font-size="8.80" text-anchor="middle" fill="#1d1b1c" font-weight="normal" stroke="#1d1b1c" stroke-width="0.12" >7</text>
<line x1="503.80" y1="503.50" x2="503.80" y2="506.50" stroke="#000" stroke-width="1.00" />
<text x="503.80" y="518.20" font-size="8.80" text-anchor="middle" fill="#1d1b1c" font-weight="normal" stroke="#1d1b1c" stroke-width="0.12" >8</text>
<text x="399.50" y="359.7" font-size="10.3" fill="#1d1b1c" textLength="77.00" lengthAdjust="spacingAndGlyphs" stroke="#1d1b1c" stroke-width="0.12">C1C2 population</text>
<text x="383.00" y="398.60" font-size="8.60" text-anchor="start" fill="#62b058" font-weight="normal" stroke="#62b058" stroke-width="0.12" >R = 0.57</text>
<text x="393.30" y="407.80" font-size="8.00" text-anchor="start" fill="#62b058" font-weight="normal" stroke="#62b058" stroke-width="0.12" style="stroke-width:0.2px">****</text>
<text x="476.90" y="398.50" font-size="8.60" text-anchor="start" fill="#3c5478" font-weight="normal" stroke="#3c5478" stroke-width="0.12" >R = 0.47</text>
<text x="487.00" y="407.80" font-size="8.00" text-anchor="start" fill="#3c5478" font-weight="normal" stroke="#3c5478" stroke-width="0.12" style="stroke-width:0.2px">****</text>
<circle cx="407.50" cy="373.60" r="1.20" fill="#1c3558"/>
<circle cx="398.90" cy="433.50" r="1.20" fill="#1c3558"/>
<circle cx="436.90" cy="435.00" r="1.20" fill="#1c3558"/>
<circle cx="443.80" cy="433.90" r="1.20" fill="#1c3558"/>
<circle cx="435.40" cy="442.70" r="1.20" fill="#1c3558"/>
<circle cx="394.90" cy="452.70" r="1.20" fill="#1c3558"/>
<circle cx="418.90" cy="450.80" r="1.20" fill="#1c3558"/>
<circle cx="410.30" cy="454.50" r="1.20" fill="#1c3558"/>
<circle cx="422.30" cy="454.50" r="1.20" fill="#1c3558"/>
<circle cx="443.80" cy="408.00" r="1.20" fill="#1c3558"/>
<circle cx="443.80" cy="433.60" r="1.20" fill="#1c3558"/>
<circle cx="452.10" cy="432.30" r="1.20" fill="#1c3558"/>
<circle cx="451.80" cy="449.80" r="1.20" fill="#1c3558"/>
<circle cx="454.10" cy="462.60" r="1.20" fill="#1c3558"/>
<circle cx="482.80" cy="428.90" r="1.20" fill="#1c3558"/>
<circle cx="501.90" cy="457.20" r="1.20" fill="#1c3558"/>
<circle cx="395.10" cy="452.70" r="1.20" fill="#1c3558"/>
<circle cx="419.30" cy="450.80" r="1.20" fill="#1c3558"/>
<circle cx="410.20" cy="454.60" r="1.20" fill="#1c3558"/>
<circle cx="422.70" cy="454.80" r="1.20" fill="#1c3558"/>
<circle cx="405.40" cy="458.50" r="1.20" fill="#1c3558"/>
<circle cx="409.30" cy="459.10" r="1.20" fill="#1c3558"/>
<circle cx="413.10" cy="460.10" r="1.20" fill="#1c3558"/>
<circle cx="380.90" cy="466.80" r="1.20" fill="#1c3558"/>
<circle cx="393.90" cy="465.40" r="1.20" fill="#1c3558"/>
<circle cx="390.30" cy="467.30" r="1.20" fill="#1c3558"/>
<circle cx="400.10" cy="466.30" r="1.20" fill="#1c3558"/>
<circle cx="403.50" cy="463.90" r="1.20" fill="#1c3558"/>
<circle cx="402.00" cy="467.80" r="1.20" fill="#1c3558"/>
<circle cx="390.50" cy="473.60" r="1.20" fill="#1c3558"/>
<circle cx="404.40" cy="471.20" r="1.20" fill="#1c3558"/>
<circle cx="413.10" cy="462.50" r="1.20" fill="#1c3558"/>
<circle cx="413.60" cy="466.80" r="1.20" fill="#1c3558"/>
<circle cx="412.60" cy="470.20" r="1.20" fill="#1c3558"/>
<circle cx="412.10" cy="472.60" r="1.20" fill="#1c3558"/>
<circle cx="420.30" cy="466.30" r="1.20" fill="#1c3558"/>
<circle cx="420.30" cy="468.30" r="1.20" fill="#1c3558"/>
<circle cx="427.00" cy="465.90" r="1.20" fill="#1c3558"/>
<circle cx="427.00" cy="467.80" r="1.20" fill="#1c3558"/>
<circle cx="416.90" cy="477.40" r="1.20" fill="#1c3558"/>
<circle cx="392.00" cy="478.80" r="1.20" fill="#1c3558"/>
<circle cx="393.40" cy="479.30" r="1.20" fill="#1c3558"/>
<circle cx="410.70" cy="478.40" r="1.20" fill="#1c3558"/>
<circle cx="393.90" cy="484.60" r="1.20" fill="#1c3558"/>
<circle cx="404.00" cy="468.80" r="1.20" fill="#1c3558"/>
<circle cx="398.50" cy="468.20" r="1.20" fill="#1c3558"/>
<circle cx="401.00" cy="470.50" r="1.20" fill="#1c3558"/>
<circle cx="396.50" cy="466.00" r="1.20" fill="#1c3558"/>
<circle cx="406.50" cy="466.50" r="1.20" fill="#1c3558"/>
<circle cx="392.60" cy="476.20" r="1.20" fill="#1c3558"/>
<circle cx="396.20" cy="479.80" r="1.20" fill="#1c3558"/>
<circle cx="398.00" cy="475.50" r="1.20" fill="#1c3558"/>
<circle cx="397.14" cy="468.22" r="1.20" fill="#1c3558"/>
<circle cx="397.71" cy="466.61" r="1.20" fill="#1c3558"/>
<circle cx="395.31" cy="473.43" r="1.20" fill="#1c3558"/>
<circle cx="392.95" cy="476.52" r="1.20" fill="#1c3558"/>
<circle cx="401.56" cy="473.59" r="1.20" fill="#1c3558"/>
<circle cx="394.59" cy="472.90" r="1.20" fill="#1c3558"/>
<circle cx="395.26" cy="478.44" r="1.20" fill="#1c3558"/>
<circle cx="404.78" cy="467.88" r="1.20" fill="#1c3558"/>
<circle cx="397.24" cy="471.46" r="1.20" fill="#1c3558"/>
<circle cx="392.99" cy="475.59" r="1.20" fill="#1c3558"/>
<circle cx="404.20" cy="477.76" r="1.20" fill="#1c3558"/>
<circle cx="401.41" cy="466.53" r="1.20" fill="#1c3558"/>
<circle cx="392.42" cy="475.22" r="1.20" fill="#1c3558"/>
<circle cx="451.20" cy="384.60" r="1.20" fill="#46a046"/>
<circle cx="393.40" cy="439.60" r="1.20" fill="#46a046"/>
<circle cx="422.30" cy="438.50" r="1.20" fill="#46a046"/>
<circle cx="433.80" cy="436.50" r="1.20" fill="#46a046"/>
<circle cx="380.50" cy="457.00" r="1.20" fill="#46a046"/>
<circle cx="413.40" cy="451.90" r="1.20" fill="#46a046"/>
<circle cx="430.00" cy="452.70" r="1.20" fill="#46a046"/>
<circle cx="436.90" cy="455.80" r="1.20" fill="#46a046"/>
<circle cx="444.00" cy="414.50" r="1.20" fill="#46a046"/>
<circle cx="451.80" cy="452.50" r="1.20" fill="#46a046"/>
<circle cx="454.10" cy="465.70" r="1.20" fill="#46a046"/>
<circle cx="482.80" cy="415.10" r="1.20" fill="#46a046"/>
<circle cx="501.90" cy="461.20" r="1.20" fill="#46a046"/>
<circle cx="413.60" cy="451.90" r="1.20" fill="#46a046"/>
<circle cx="379.90" cy="456.90" r="1.20" fill="#46a046"/>
<circle cx="390.30" cy="467.80" r="1.20" fill="#46a046"/>
<circle cx="398.20" cy="469.20" r="1.20" fill="#46a046"/>
<circle cx="396.30" cy="470.70" r="1.20" fill="#46a046"/>
<circle cx="394.30" cy="471.60" r="1.20" fill="#46a046"/>
<circle cx="399.20" cy="472.10" r="1.20" fill="#46a046"/>
<circle cx="404.00" cy="474.00" r="1.20" fill="#46a046"/>
<circle cx="406.80" cy="474.50" r="1.20" fill="#46a046"/>
<circle cx="408.80" cy="465.40" r="1.20" fill="#46a046"/>
<circle cx="411.20" cy="466.30" r="1.20" fill="#46a046"/>
<circle cx="412.10" cy="469.20" r="1.20" fill="#46a046"/>
<circle cx="416.50" cy="475.50" r="1.20" fill="#46a046"/>
<circle cx="393.40" cy="476.00" r="1.20" fill="#46a046"/>
<circle cx="395.80" cy="477.90" r="1.20" fill="#46a046"/>
<circle cx="398.20" cy="477.40" r="1.20" fill="#46a046"/>
<circle cx="400.10" cy="478.40" r="1.20" fill="#46a046"/>
<circle cx="410.70" cy="482.20" r="1.20" fill="#46a046"/>
<circle cx="427.00" cy="469.80" r="1.20" fill="#46a046"/>
<circle cx="420.30" cy="470.20" r="1.20" fill="#46a046"/>
<circle cx="392.00" cy="474.20" r="1.20" fill="#46a046"/>
<circle cx="394.80" cy="473.60" r="1.20" fill="#46a046"/>
<circle cx="397.40" cy="474.00" r="1.20" fill="#46a046"/>
<circle cx="400.60" cy="476.60" r="1.20" fill="#46a046"/>
<circle cx="402.80" cy="472.80" r="1.20" fill="#46a046"/>
<circle cx="391.00" cy="470.00" r="1.20" fill="#46a046"/>
<circle cx="395.20" cy="468.60" r="1.20" fill="#46a046"/>
<circle cx="406.00" cy="469.80" r="1.20" fill="#46a046"/>
<circle cx="397.00" cy="481.00" r="1.20" fill="#46a046"/>
<circle cx="391.80" cy="472.90" r="1.20" fill="#46a046"/>
<circle cx="392.67" cy="475.77" r="1.20" fill="#46a046"/>
<circle cx="397.59" cy="472.29" r="1.20" fill="#46a046"/>
<circle cx="398.95" cy="476.88" r="1.20" fill="#46a046"/>
<circle cx="392.96" cy="484.83" r="1.20" fill="#46a046"/>
<circle cx="403.88" cy="469.12" r="1.20" fill="#46a046"/>
<circle cx="397.46" cy="478.20" r="1.20" fill="#46a046"/>
<circle cx="391.63" cy="475.33" r="1.20" fill="#46a046"/>
<circle cx="396.70" cy="469.84" r="1.20" fill="#46a046"/>
<circle cx="392.18" cy="480.67" r="1.20" fill="#46a046"/>
<circle cx="402.26" cy="472.56" r="1.20" fill="#46a046"/>
<circle cx="401.83" cy="470.91" r="1.20" fill="#46a046"/>
<circle cx="391.08" cy="468.94" r="1.20" fill="#46a046"/>
<line x1="379.60" y1="478.40" x2="502.20" y2="420.40" stroke="#3c9c3c" stroke-width="1.30" />
<line x1="380.80" y1="474.30" x2="502.20" y2="427.80" stroke="#1e4070" stroke-width="1.30" />
<line x1="468.70" y1="482.50" x2="478.30" y2="482.50" stroke="#3c9c3c" stroke-width="1.00" />
<circle cx="473.50" cy="482.50" r="1.05" fill="#3c9c3c"/>
<text x="482.40" y="485.40" font-size="8.00" text-anchor="start" fill="#1d1b1c" font-weight="normal" stroke="#1d1b1c" stroke-width="0.12" >2DL3</text>
<line x1="468.70" y1="494.90" x2="478.30" y2="494.90" stroke="#1e4070" stroke-width="1.00" />
<circle cx="473.50" cy="494.90" r="1.05" fill="#1e4070"/>
<text x="482.40" y="497.80" font-size="8.00" text-anchor="start" fill="#1d1b1c" font-weight="normal" stroke="#1d1b1c" stroke-width="0.12" >2DL1</text>
<g transform="translate(39.60 531.80)">
<text x="0.00" y="0" font-size="10.00" fill="#231f20" stroke="#231f20" stroke-width="0.32" textLength="31.20" lengthAdjust="spacingAndGlyphs">Granzyme</text>
<text x="33.80" y="0" font-size="10.00" fill="#231f20" stroke="#231f20" stroke-width="0.32" textLength="4.60" lengthAdjust="spacingAndGlyphs">B</text>
<text x="41.30" y="0" font-size="10.00" fill="#231f20" stroke="#231f20" stroke-width="0.32" textLength="18.50" lengthAdjust="spacingAndGlyphs">(MFI)</text>
<text x="62.10" y="0" font-size="10.00" fill="#231f20" stroke="#231f20" stroke-width="0.32" textLength="23.30" lengthAdjust="spacingAndGlyphs">bulk/nil</text>
</g>
<line x1="132.30" y1="528.70" x2="427.00" y2="528.70" stroke="#000" stroke-width="1.20" />
<path d="M432.4 528.7 L421.6 524.5 L424.6 528.7 L421.6 533.5 Z" fill="#000"/>
</g>
<rect x="0" y="0" width="1.3" height="542" fill="#545454"/><rect x="0" y="0" width="520" height="1.3" fill="#545454"/><rect x="518.7" y="0" width="1.3" height="542" fill="#545454"/><rect x="0" y="540.7" width="520" height="1.3" fill="#545454"/>
</svg>
</body></html>
